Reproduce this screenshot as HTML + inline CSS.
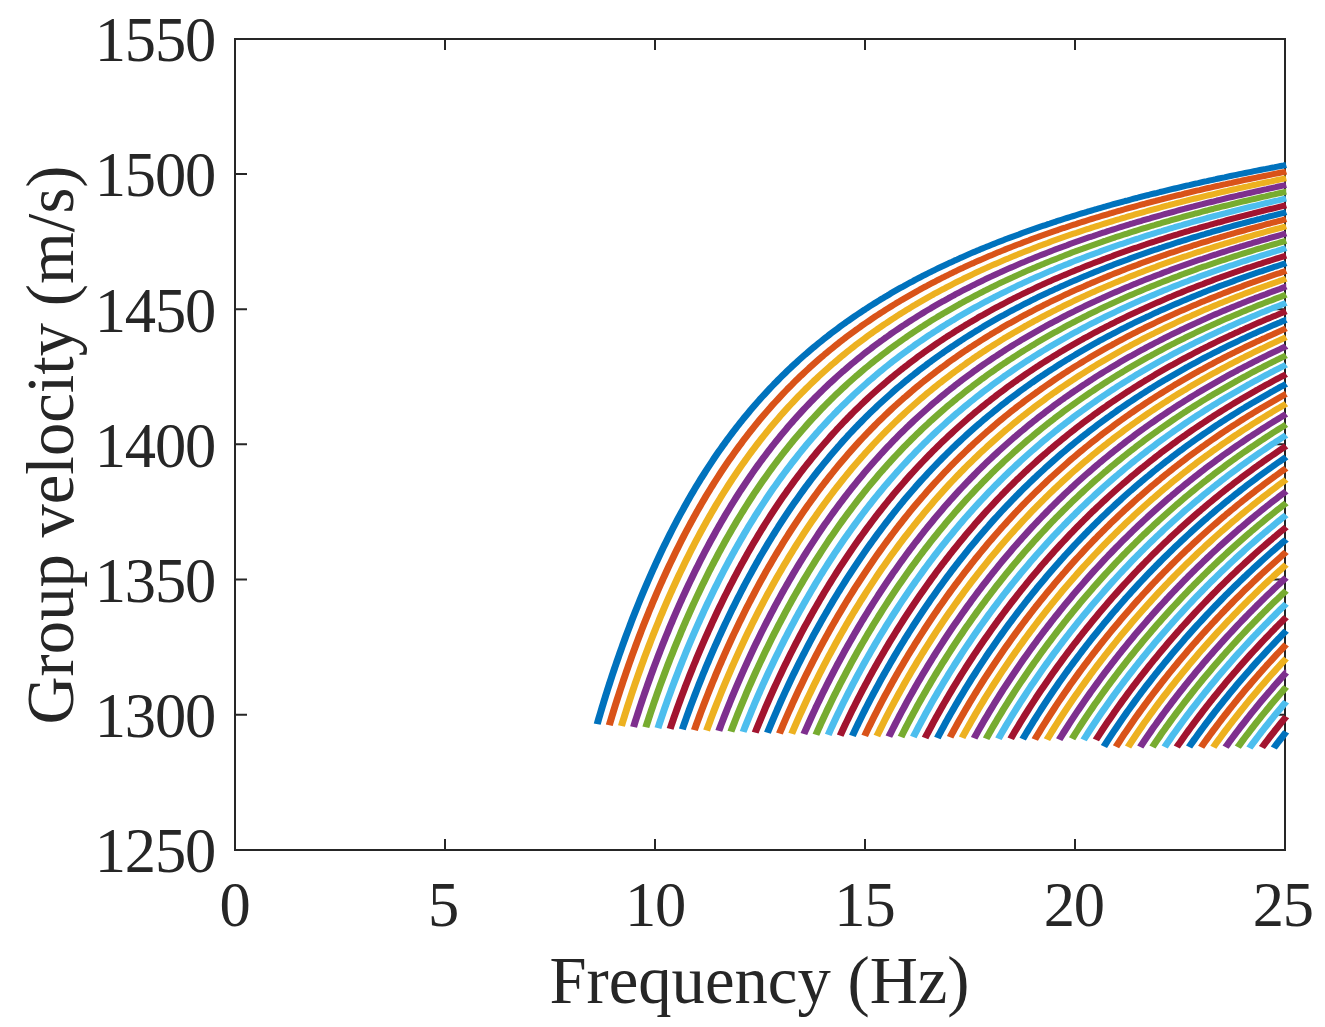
<!DOCTYPE html>
<html lang="en"><head><meta charset="utf-8"><title>Group velocity vs frequency</title>
<style>html,body{margin:0;padding:0;background:#fff}svg{display:block}text{font-family:"Liberation Serif",serif;fill:#262626}.t{font-size:62.5px;letter-spacing:-1.2px}.l{font-size:66.67px}.c{fill:none;stroke-width:6.0;stroke-linejoin:round;stroke-linecap:butt}</style></head><body>
<svg width="1325" height="1027" viewBox="0 0 1325 1027">
<rect width="1325" height="1027" fill="#fff"/>
<path d="M235 39H1285V850H235ZM445 850v-11M445 39v11M655 850v-11M655 39v11M865 850v-11M865 39v11M1075 850v-11M1075 39v11M235 173.97h12M1285 173.97h-12M235 309.13h12M1285 309.13h-12M235 444.30h12M1285 444.30h-12M235 579.47h12M1285 579.47h-12M235 714.63h12M1285 714.63h-12" fill="none" stroke="#262626" stroke-width="2" stroke-linejoin="miter"/>
<g class="c" transform="scale(1.18 1)">
<path stroke="#0072BD" d="M506.10,724.1 506.80,721.2 507.51,718.3 508.22,715.5 508.94,712.6 509.67,709.7 510.40,706.8 511.14,704.0 511.88,701.1 512.63,698.2 513.38,695.3 514.14,692.5 514.91,689.6 515.68,686.8 516.46,683.9 517.24,681.0 518.03,678.2 518.83,675.3 519.63,672.5 520.44,669.7 521.25,666.8 522.07,664.0 522.90,661.1 523.73,658.3 524.56,655.5 525.41,652.6 526.26,649.8 527.11,647.0 527.97,644.1 528.84,641.3 529.71,638.5 530.59,635.7 531.48,632.9 532.37,630.1 533.27,627.3 534.17,624.5 535.08,621.6 536.00,618.8 536.93,616.1 537.86,613.3 538.79,610.5 539.74,607.7 540.69,604.9 541.64,602.1 542.61,599.3 543.58,596.6 544.55,593.8 545.54,591.0 546.53,588.3 547.53,585.5 548.53,582.7 549.54,580.0 550.56,577.2 551.59,574.5 552.62,571.7 553.66,569.0 554.71,566.3 555.77,563.5 556.83,560.8 557.90,558.1 558.98,555.4 560.07,552.7 561.17,549.9 562.27,547.2 563.38,544.5 564.50,541.8 565.63,539.1 566.76,536.5 567.91,533.8 569.06,531.1 570.22,528.4 571.39,525.8 572.57,523.1 573.75,520.4 574.95,517.8 576.15,515.1 577.37,512.5 578.59,509.9 579.82,507.2 581.06,504.6 582.31,502.0 583.57,499.4 584.84,496.8 586.12,494.2 587.41,491.6 588.70,489.0 590.01,486.4 591.33,483.9 592.66,481.3 593.99,478.7 595.34,476.2 596.70,473.7 598.07,471.1 599.44,468.6 600.83,466.1 602.23,463.6 603.64,461.1 605.06,458.6 606.49,456.1 607.93,453.6 609.38,451.1 610.84,448.7 612.31,446.2 613.80,443.8 615.29,441.3 616.80,438.9 618.31,436.5 619.84,434.1 621.38,431.7 622.93,429.3 624.49,426.9 626.06,424.6 627.64,422.2 629.23,419.9 630.84,417.5 632.45,415.2 634.08,412.9 635.72,410.6 637.37,408.3 639.03,406.0 640.70,403.7 642.38,401.5 644.07,399.2 645.78,397.0 647.49,394.8 649.22,392.6 650.96,390.4 652.70,388.2 654.46,386.0 656.23,383.8 658.01,381.7 659.81,379.5 661.61,377.4 663.42,375.3 665.24,373.2 667.08,371.1 668.92,369.0 670.78,366.9 672.64,364.9 674.52,362.9 676.40,360.8 678.30,358.8 680.21,356.8 682.12,354.8 684.05,352.9 685.98,350.9 687.93,348.9 689.88,347.0 691.85,345.1 693.82,343.2 695.80,341.3 697.80,339.4 699.80,337.5 701.81,335.7 703.83,333.8 705.86,332.0 707.89,330.2 709.94,328.4 711.99,326.6 714.05,324.8 716.12,323.1 718.20,321.3 720.29,319.6 722.38,317.9 724.49,316.2 726.60,314.5 728.71,312.8 730.84,311.1 732.97,309.5 735.11,307.8 737.26,306.2 739.41,304.6 741.57,303.0 743.74,301.4 745.91,299.8 748.10,298.3 750.28,296.7 752.48,295.2 754.68,293.6 756.88,292.1 759.10,290.6 761.31,289.1 763.54,287.6 765.77,286.2 768.00,284.7 770.25,283.3 772.49,281.9 774.74,280.4 777.00,279.0 779.26,277.6 781.53,276.2 783.80,274.9 786.08,273.5 788.36,272.2 790.65,270.8 792.94,269.5 795.24,268.2 797.54,266.9 799.85,265.6 802.15,264.3 804.47,263.0 806.79,261.8 809.11,260.5 811.43,259.3 813.76,258.0 816.10,256.8 818.43,255.6 820.77,254.4 823.12,253.2 825.47,252.0 827.82,250.8 830.17,249.7 832.53,248.5 834.89,247.4 837.26,246.3 839.62,245.1 842.00,244.0 844.37,242.9 846.75,241.8 849.13,240.7 851.51,239.6 853.89,238.6 856.28,237.5 858.67,236.4 861.07,235.4 863.46,234.4 865.86,233.3 868.26,232.3 870.66,231.3 873.07,230.3 875.48,229.3 877.89,228.3 880.30,227.3 882.72,226.3 885.13,225.4 887.55,224.4 889.97,223.5 892.40,222.5 894.82,221.6 897.25,220.6 899.68,219.7 902.11,218.8 904.54,217.9 906.98,217.0 909.41,216.1 911.85,215.2 914.29,214.3 916.73,213.4 919.17,212.6 921.62,211.7 924.07,210.9 926.51,210.0 928.96,209.2 931.41,208.3 933.87,207.5 936.32,206.7 938.77,205.8 941.23,205.0 943.69,204.2 946.15,203.4 948.61,202.6 951.07,201.8 953.53,201.0 956.00,200.3 958.46,199.5 960.93,198.7 963.40,198.0 965.87,197.2 968.34,196.4 970.81,195.7 973.28,195.0 975.75,194.2 978.23,193.5 980.70,192.8 983.18,192.0 985.65,191.3 988.13,190.6 990.61,189.9 993.09,189.2 995.57,188.5 998.05,187.8 1000.54,187.1 1003.02,186.4 1005.51,185.7 1007.99,185.1 1010.48,184.4 1012.96,183.7 1015.45,183.1 1017.94,182.4 1020.43,181.7 1022.92,181.1 1025.41,180.4 1027.90,179.8 1030.39,179.2 1032.89,178.5 1035.38,177.9 1037.87,177.3 1040.37,176.6 1042.86,176.0 1045.36,175.4 1047.86,174.8 1050.35,174.2 1052.85,173.6 1055.35,173.0 1057.85,172.4 1060.35,171.8 1062.85,171.2 1065.35,170.6 1067.85,170.0 1070.35,169.4 1072.86,168.9 1075.36,168.3 1077.86,167.7 1080.37,167.2 1082.87,166.6 1085.38,166.0 1087.88,165.5 1090.00,165.0"/>
<path stroke="#D95319" d="M516.35,725.2 517.07,722.3 517.80,719.4 518.53,716.6 519.27,713.7 520.01,710.8 520.76,708.0 521.52,705.1 522.28,702.2 523.05,699.4 523.83,696.5 524.61,693.7 525.40,690.8 526.19,688.0 526.99,685.1 527.79,682.3 528.60,679.4 529.42,676.6 530.24,673.7 531.07,670.9 531.90,668.1 532.75,665.2 533.59,662.4 534.44,659.6 535.30,656.7 536.17,653.9 537.04,651.1 537.92,648.3 538.80,645.5 539.69,642.7 540.59,639.8 541.49,637.0 542.40,634.2 543.31,631.4 544.23,628.6 545.16,625.8 546.09,623.1 547.03,620.3 547.98,617.5 548.93,614.7 549.89,611.9 550.86,609.1 551.83,606.4 552.81,603.6 553.80,600.8 554.80,598.1 555.80,595.3 556.80,592.5 557.82,589.8 558.84,587.0 559.87,584.3 560.90,581.6 561.95,578.8 563.00,576.1 564.06,573.4 565.12,570.6 566.19,567.9 567.27,565.2 568.36,562.5 569.46,559.8 570.56,557.1 571.67,554.4 572.79,551.7 573.92,549.0 575.05,546.3 576.20,543.6 577.35,540.9 578.51,538.2 579.68,535.6 580.85,532.9 582.04,530.3 583.23,527.6 584.44,525.0 585.65,522.3 586.87,519.7 588.09,517.1 589.33,514.4 590.58,511.8 591.83,509.2 593.10,506.6 594.37,504.0 595.66,501.4 596.95,498.8 598.25,496.2 599.56,493.7 600.89,491.1 602.22,488.5 603.56,486.0 604.91,483.4 606.27,480.9 607.64,478.4 609.02,475.8 610.41,473.3 611.81,470.8 613.22,468.3 614.64,465.8 616.07,463.3 617.52,460.8 618.97,458.4 620.43,455.9 621.90,453.5 623.39,451.0 624.88,448.6 626.39,446.2 627.90,443.8 629.43,441.3 630.97,438.9 632.51,436.6 634.07,434.2 635.64,431.8 637.22,429.5 638.81,427.1 640.42,424.8 642.03,422.4 643.65,420.1 645.29,417.8 646.93,415.5 648.59,413.2 650.26,411.0 651.94,408.7 653.62,406.4 655.32,404.2 657.04,402.0 658.76,399.8 660.49,397.6 662.23,395.4 663.99,393.2 665.75,391.0 667.53,388.8 669.31,386.7 671.11,384.6 672.91,382.4 674.73,380.3 676.56,378.2 678.40,376.1 680.24,374.1 682.10,372.0 683.97,370.0 685.85,367.9 687.74,365.9 689.64,363.9 691.55,361.9 693.46,359.9 695.39,357.9 697.33,356.0 699.28,354.0 701.23,352.1 703.20,350.2 705.17,348.3 707.16,346.4 709.15,344.5 711.15,342.6 713.16,340.8 715.18,338.9 717.21,337.1 719.25,335.3 721.29,333.5 723.35,331.7 725.41,329.9 727.48,328.2 729.55,326.4 731.64,324.7 733.73,323.0 735.84,321.3 737.94,319.6 740.06,317.9 742.19,316.2 744.32,314.6 746.46,312.9 748.60,311.3 750.75,309.7 752.91,308.1 755.08,306.5 757.25,304.9 759.43,303.3 761.62,301.8 763.81,300.2 766.01,298.7 768.21,297.2 770.42,295.7 772.64,294.2 774.86,292.7 777.09,291.2 779.32,289.8 781.56,288.3 783.80,286.9 786.05,285.5 788.31,284.0 790.57,282.6 792.83,281.3 795.10,279.9 797.38,278.5 799.66,277.2 801.94,275.8 804.23,274.5 806.52,273.2 808.82,271.8 811.12,270.5 813.43,269.2 815.74,268.0 818.06,266.7 820.38,265.4 822.70,264.2 825.03,263.0 827.36,261.7 829.69,260.5 832.03,259.3 834.37,258.1 836.72,256.9 839.06,255.7 841.42,254.6 843.77,253.4 846.13,252.2 848.49,251.1 850.86,250.0 853.23,248.8 855.60,247.7 857.97,246.6 860.35,245.5 862.73,244.4 865.11,243.4 867.50,242.3 869.89,241.2 872.28,240.2 874.67,239.1 877.07,238.1 879.46,237.1 881.86,236.0 884.27,235.0 886.67,234.0 889.08,233.0 891.49,232.0 893.90,231.0 896.32,230.1 898.74,229.1 901.15,228.1 903.58,227.2 906.00,226.2 908.42,225.3 910.85,224.4 913.28,223.4 915.71,222.5 918.14,221.6 920.58,220.7 923.01,219.8 925.45,218.9 927.89,218.0 930.33,217.2 932.77,216.3 935.22,215.4 937.66,214.6 940.11,213.7 942.56,212.9 945.01,212.0 947.46,211.2 949.91,210.4 952.37,209.5 954.82,208.7 957.28,207.9 959.74,207.1 962.20,206.3 964.66,205.5 967.12,204.7 969.59,204.0 972.05,203.2 974.52,202.4 976.99,201.6 979.45,200.9 981.92,200.1 984.39,199.4 986.87,198.6 989.34,197.9 991.81,197.1 994.29,196.4 996.76,195.7 999.24,195.0 1001.72,194.3 1004.19,193.5 1006.67,192.8 1009.15,192.1 1011.64,191.4 1014.12,190.7 1016.60,190.1 1019.09,189.4 1021.57,188.7 1024.06,188.0 1026.54,187.4 1029.03,186.7 1031.52,186.0 1034.01,185.4 1036.50,184.7 1038.99,184.1 1041.48,183.4 1043.97,182.8 1046.46,182.1 1048.95,181.5 1051.45,180.9 1053.94,180.2 1056.44,179.6 1058.93,179.0 1061.43,178.4 1063.93,177.8 1066.42,177.2 1068.92,176.6 1071.42,176.0 1073.92,175.4 1076.42,174.8 1078.92,174.2 1081.42,173.6 1083.92,173.0 1086.42,172.4 1088.93,171.9 1090.00,171.6"/>
<path stroke="#EDB120" d="M526.66,726.0 527.40,723.1 528.14,720.3 528.90,717.4 529.65,714.5 530.42,711.7 531.19,708.8 531.97,705.9 532.75,703.1 533.54,700.2 534.34,697.4 535.14,694.5 535.95,691.7 536.76,688.9 537.58,686.0 538.40,683.2 539.24,680.3 540.07,677.5 540.92,674.7 541.77,671.8 542.63,669.0 543.49,666.2 544.36,663.4 545.23,660.6 546.11,657.7 547.00,654.9 547.89,652.1 548.79,649.3 549.70,646.5 550.61,643.7 551.53,640.9 552.45,638.1 553.38,635.3 554.32,632.5 555.27,629.7 556.22,626.9 557.17,624.2 558.14,621.4 559.11,618.6 560.08,615.8 561.07,613.1 562.06,610.3 563.06,607.5 564.06,604.8 565.07,602.0 566.09,599.3 567.11,596.5 568.14,593.8 569.18,591.1 570.23,588.3 571.28,585.6 572.34,582.9 573.41,580.1 574.48,577.4 575.56,574.7 576.65,572.0 577.75,569.3 578.86,566.6 579.97,563.9 581.09,561.2 582.22,558.5 583.35,555.8 584.50,553.1 585.65,550.4 586.81,547.8 587.97,545.1 589.15,542.4 590.33,539.8 591.53,537.1 592.73,534.5 593.94,531.8 595.16,529.2 596.38,526.6 597.62,523.9 598.86,521.3 600.12,518.7 601.38,516.1 602.65,513.5 603.93,510.9 605.22,508.3 606.52,505.7 607.82,503.1 609.14,500.6 610.47,498.0 611.80,495.4 613.15,492.9 614.50,490.4 615.87,487.8 617.24,485.3 618.62,482.8 620.02,480.3 621.42,477.7 622.84,475.2 624.26,472.8 625.69,470.3 627.14,467.8 628.59,465.3 630.06,462.9 631.53,460.4 633.02,458.0 634.51,455.5 636.02,453.1 637.53,450.7 639.06,448.3 640.60,445.9 642.15,443.5 643.70,441.1 645.27,438.8 646.85,436.4 648.44,434.1 650.04,431.7 651.65,429.4 653.28,427.1 654.91,424.8 656.55,422.5 658.21,420.2 659.87,417.9 661.55,415.6 663.23,413.4 664.93,411.1 666.64,408.9 668.35,406.7 670.08,404.5 671.82,402.3 673.57,400.1 675.33,397.9 677.10,395.7 678.88,393.6 680.67,391.5 682.48,389.3 684.29,387.2 686.11,385.1 687.94,383.0 689.78,380.9 691.64,378.9 693.50,376.8 695.37,374.8 697.25,372.7 699.15,370.7 701.05,368.7 702.96,366.7 704.88,364.7 706.81,362.8 708.75,360.8 710.70,358.9 712.66,356.9 714.63,355.0 716.60,353.1 718.59,351.2 720.58,349.4 722.59,347.5 724.60,345.6 726.62,343.8 728.65,342.0 730.69,340.2 732.73,338.4 734.79,336.6 736.85,334.8 738.92,333.1 741.00,331.3 743.08,329.6 745.18,327.8 747.28,326.1 749.39,324.4 751.50,322.8 753.63,321.1 755.76,319.4 757.89,317.8 760.04,316.2 762.19,314.5 764.35,312.9 766.51,311.3 768.68,309.7 770.86,308.2 773.05,306.6 775.24,305.1 777.43,303.5 779.64,302.0 781.84,300.5 784.06,299.0 786.28,297.5 788.51,296.0 790.74,294.6 792.97,293.1 795.22,291.7 797.46,290.3 799.72,288.9 801.98,287.4 804.24,286.1 806.51,284.7 808.78,283.3 811.06,281.9 813.34,280.6 815.63,279.3 817.92,277.9 820.21,276.6 822.51,275.3 824.82,274.0 827.13,272.7 829.44,271.4 831.76,270.2 834.08,268.9 836.40,267.7 838.73,266.4 841.06,265.2 843.40,264.0 845.74,262.8 848.08,261.6 850.43,260.4 852.78,259.2 855.13,258.1 857.48,256.9 859.84,255.8 862.21,254.6 864.57,253.5 866.94,252.4 869.31,251.3 871.69,250.2 874.07,249.1 876.45,248.0 878.83,246.9 881.22,245.8 883.60,244.8 886.00,243.7 888.39,242.7 890.79,241.6 893.18,240.6 895.59,239.6 897.99,238.6 900.39,237.6 902.80,236.6 905.21,235.6 907.63,234.6 910.04,233.6 912.46,232.7 914.88,231.7 917.30,230.7 919.72,229.8 922.14,228.9 924.57,227.9 927.00,227.0 929.43,226.1 931.86,225.2 934.30,224.3 936.73,223.4 939.17,222.5 941.61,221.6 944.05,220.7 946.49,219.8 948.93,219.0 951.38,218.1 953.83,217.3 956.28,216.4 958.73,215.6 961.18,214.7 963.63,213.9 966.08,213.1 968.54,212.3 971.00,211.5 973.45,210.7 975.91,209.9 978.38,209.1 980.84,208.3 983.30,207.5 985.76,206.7 988.23,205.9 990.70,205.2 993.17,204.4 995.63,203.7 998.10,202.9 1000.58,202.2 1003.05,201.4 1005.52,200.7 1008.00,199.9 1010.47,199.2 1012.95,198.5 1015.42,197.8 1017.90,197.1 1020.38,196.4 1022.86,195.7 1025.34,195.0 1027.82,194.3 1030.31,193.6 1032.79,192.9 1035.27,192.2 1037.76,191.5 1040.25,190.9 1042.73,190.2 1045.22,189.5 1047.71,188.9 1050.20,188.2 1052.69,187.6 1055.18,186.9 1057.67,186.3 1060.16,185.6 1062.65,185.0 1065.15,184.4 1067.64,183.7 1070.13,183.1 1072.63,182.5 1075.13,181.9 1077.62,181.3 1080.12,180.6 1082.62,180.0 1085.12,179.4 1087.61,178.8 1090.00,178.3"/>
<path stroke="#7E2F8E" d="M536.94,726.9 537.70,724.0 538.46,721.1 539.24,718.3 540.01,715.4 540.80,712.6 541.59,709.7 542.39,706.8 543.19,704.0 544.00,701.2 544.82,698.3 545.64,695.5 546.46,692.6 547.30,689.8 548.14,687.0 548.99,684.1 549.84,681.3 550.70,678.5 551.56,675.7 552.43,672.8 553.31,670.0 554.20,667.2 555.09,664.4 555.98,661.6 556.88,658.8 557.79,656.0 558.71,653.2 559.63,650.4 560.56,647.6 561.49,644.8 562.43,642.0 563.38,639.2 564.33,636.4 565.29,633.7 566.26,630.9 567.23,628.1 568.21,625.3 569.20,622.6 570.19,619.8 571.19,617.0 572.20,614.3 573.21,611.5 574.23,608.8 575.26,606.0 576.29,603.3 577.33,600.6 578.38,597.8 579.43,595.1 580.50,592.4 581.57,589.6 582.64,586.9 583.73,584.2 584.82,581.5 585.91,578.8 587.02,576.1 588.13,573.4 589.25,570.7 590.38,568.0 591.52,565.3 592.66,562.6 593.81,559.9 594.97,557.3 596.14,554.6 597.31,551.9 598.50,549.3 599.69,546.6 600.89,544.0 602.10,541.3 603.31,538.7 604.54,536.1 605.77,533.4 607.01,530.8 608.26,528.2 609.52,525.6 610.79,523.0 612.07,520.4 613.35,517.8 614.65,515.2 615.95,512.6 617.26,510.1 618.58,507.5 619.91,504.9 621.25,502.4 622.60,499.8 623.96,497.3 625.33,494.8 626.71,492.2 628.09,489.7 629.49,487.2 630.90,484.7 632.31,482.2 633.74,479.7 635.18,477.2 636.62,474.7 638.08,472.3 639.54,469.8 641.02,467.4 642.51,464.9 644.00,462.5 645.51,460.1 647.02,457.7 648.55,455.3 650.09,452.9 651.64,450.5 653.19,448.1 654.76,445.7 656.34,443.4 657.93,441.0 659.53,438.7 661.14,436.3 662.76,434.0 664.39,431.7 666.03,429.4 667.68,427.1 669.34,424.8 671.01,422.6 672.70,420.3 674.39,418.1 676.09,415.8 677.81,413.6 679.53,411.4 681.27,409.2 683.01,407.0 684.77,404.8 686.53,402.6 688.31,400.5 690.10,398.3 691.89,396.2 693.70,394.1 695.51,392.0 697.34,389.9 699.18,387.8 701.02,385.7 702.88,383.6 704.75,381.6 706.62,379.6 708.51,377.5 710.40,375.5 712.31,373.5 714.22,371.5 716.15,369.6 718.08,367.6 720.02,365.6 721.97,363.7 723.93,361.8 725.90,359.9 727.88,358.0 729.87,356.1 731.86,354.2 733.87,352.3 735.88,350.5 737.90,348.7 739.93,346.8 741.97,345.0 744.01,343.2 746.07,341.4 748.13,339.7 750.20,337.9 752.28,336.2 754.37,334.4 756.46,332.7 758.56,331.0 760.67,329.3 762.78,327.6 764.91,325.9 767.04,324.3 769.17,322.6 771.32,321.0 773.47,319.4 775.62,317.8 777.79,316.2 779.96,314.6 782.13,313.0 784.32,311.4 786.50,309.9 788.70,308.4 790.90,306.8 793.11,305.3 795.32,303.8 797.54,302.3 799.76,300.9 801.99,299.4 804.23,297.9 806.47,296.5 808.71,295.1 810.96,293.6 813.22,292.2 815.48,290.8 817.75,289.4 820.02,288.1 822.29,286.7 824.57,285.3 826.86,284.0 829.15,282.7 831.44,281.4 833.74,280.0 836.04,278.7 838.35,277.4 840.66,276.2 842.97,274.9 845.29,273.6 847.61,272.4 849.94,271.1 852.27,269.9 854.60,268.7 856.94,267.5 859.28,266.3 861.62,265.1 863.97,263.9 866.32,262.7 868.67,261.6 871.03,260.4 873.39,259.3 875.75,258.1 878.12,257.0 880.49,255.9 882.86,254.8 885.24,253.7 887.62,252.6 890.00,251.5 892.38,250.4 894.77,249.3 897.16,248.3 899.55,247.2 901.94,246.2 904.34,245.2 906.74,244.1 909.14,243.1 911.54,242.1 913.95,241.1 916.36,240.1 918.77,239.1 921.18,238.1 923.59,237.1 926.01,236.2 928.43,235.2 930.85,234.3 933.27,233.3 935.70,232.4 938.12,231.4 940.55,230.5 942.98,229.6 945.41,228.7 947.85,227.8 950.28,226.9 952.72,226.0 955.16,225.1 957.60,224.2 960.04,223.4 962.48,222.5 964.93,221.6 967.38,220.8 969.82,219.9 972.27,219.1 974.72,218.3 977.18,217.4 979.63,216.6 982.09,215.8 984.54,215.0 987.00,214.2 989.46,213.4 991.92,212.6 994.38,211.8 996.84,211.0 999.31,210.2 1001.77,209.4 1004.24,208.7 1006.71,207.9 1009.18,207.1 1011.65,206.4 1014.12,205.6 1016.59,204.9 1019.06,204.2 1021.53,203.4 1024.01,202.7 1026.48,202.0 1028.96,201.3 1031.44,200.5 1033.92,199.8 1036.40,199.1 1038.88,198.4 1041.36,197.7 1043.84,197.0 1046.32,196.3 1048.81,195.7 1051.29,195.0 1053.78,194.3 1056.26,193.6 1058.75,193.0 1061.24,192.3 1063.73,191.6 1066.22,191.0 1068.71,190.3 1071.20,189.7 1073.69,189.1 1076.18,188.4 1078.67,187.8 1081.17,187.2 1083.66,186.5 1086.16,185.9 1088.65,185.3 1090.00,185.0"/>
<path stroke="#77AC30" d="M547.32,727.3 548.10,724.4 548.88,721.6 549.67,718.7 550.47,715.9 551.28,713.0 552.09,710.2 552.91,707.4 553.73,704.5 554.56,701.7 555.40,698.8 556.24,696.0 557.09,693.2 557.94,690.4 558.80,687.5 559.67,684.7 560.55,681.9 561.43,679.1 562.31,676.3 563.21,673.5 564.11,670.6 565.01,667.8 565.92,665.0 566.84,662.2 567.77,659.4 568.70,656.6 569.64,653.9 570.58,651.1 571.53,648.3 572.49,645.5 573.45,642.7 574.42,640.0 575.40,637.2 576.38,634.4 577.37,631.6 578.37,628.9 579.37,626.1 580.38,623.4 581.39,620.6 582.42,617.9 583.45,615.1 584.48,612.4 585.53,609.6 586.58,606.9 587.63,604.2 588.70,601.5 589.77,598.7 590.85,596.0 591.93,593.3 593.03,590.6 594.13,587.9 595.23,585.2 596.35,582.5 597.47,579.8 598.60,577.1 599.74,574.4 600.88,571.7 602.03,569.0 603.19,566.4 604.36,563.7 605.54,561.0 606.72,558.4 607.91,555.7 609.11,553.1 610.32,550.4 611.54,547.8 612.76,545.2 613.99,542.5 615.23,539.9 616.48,537.3 617.74,534.7 619.00,532.1 620.28,529.5 621.56,526.9 622.85,524.3 624.15,521.7 625.46,519.1 626.78,516.6 628.11,514.0 629.44,511.5 630.79,508.9 632.14,506.4 633.51,503.8 634.88,501.3 636.26,498.8 637.65,496.3 639.05,493.7 640.46,491.2 641.88,488.8 643.31,486.3 644.75,483.8 646.20,481.3 647.66,478.9 649.13,476.4 650.61,474.0 652.10,471.5 653.59,469.1 655.10,466.7 656.62,464.2 658.15,461.8 659.69,459.4 661.23,457.1 662.79,454.7 664.36,452.3 665.94,450.0 667.53,447.6 669.13,445.3 670.74,442.9 672.36,440.6 673.99,438.3 675.63,436.0 677.28,433.7 678.94,431.4 680.61,429.2 682.29,426.9 683.98,424.6 685.68,422.4 687.39,420.2 689.11,418.0 690.85,415.8 692.59,413.6 694.34,411.4 696.10,409.2 697.88,407.0 699.66,404.9 701.45,402.8 703.25,400.6 705.06,398.5 706.89,396.4 708.72,394.3 710.56,392.2 712.41,390.2 714.27,388.1 716.14,386.1 718.02,384.0 719.91,382.0 721.81,380.0 723.72,378.0 725.64,376.0 727.57,374.1 729.50,372.1 731.45,370.1 733.40,368.2 735.37,366.3 737.34,364.4 739.32,362.5 741.31,360.6 743.31,358.7 745.31,356.9 747.33,355.0 749.35,353.2 751.38,351.4 753.42,349.6 755.47,347.8 757.53,346.0 759.59,344.2 761.66,342.5 763.74,340.7 765.82,339.0 767.92,337.3 770.02,335.5 772.13,333.8 774.24,332.2 776.37,330.5 778.50,328.8 780.63,327.2 782.78,325.6 784.93,323.9 787.08,322.3 789.25,320.7 791.42,319.1 793.59,317.6 795.77,316.0 797.96,314.5 800.16,312.9 802.36,311.4 804.56,309.9 806.77,308.4 808.99,306.9 811.21,305.4 813.44,303.9 815.68,302.5 817.91,301.0 820.16,299.6 822.41,298.2 824.66,296.8 826.92,295.4 829.19,294.0 831.46,292.6 833.73,291.2 836.01,289.9 838.29,288.5 840.58,287.2 842.87,285.9 845.17,284.5 847.47,283.2 849.77,281.9 852.08,280.7 854.39,279.4 856.71,278.1 859.03,276.9 861.35,275.6 863.68,274.4 866.01,273.2 868.35,271.9 870.68,270.7 873.03,269.5 875.37,268.3 877.72,267.2 880.07,266.0 882.43,264.8 884.79,263.7 887.15,262.5 889.51,261.4 891.88,260.3 894.25,259.2 896.62,258.1 899.00,257.0 901.38,255.9 903.76,254.8 906.14,253.7 908.53,252.6 910.92,251.6 913.31,250.5 915.71,249.5 918.10,248.5 920.50,247.4 922.91,246.4 925.31,245.4 927.72,244.4 930.12,243.4 932.53,242.4 934.95,241.4 937.36,240.5 939.78,239.5 942.20,238.5 944.62,237.6 947.04,236.6 949.47,235.7 951.89,234.8 954.32,233.9 956.75,232.9 959.18,232.0 961.62,231.1 964.05,230.2 966.49,229.3 968.93,228.4 971.37,227.6 973.81,226.7 976.25,225.8 978.70,225.0 981.15,224.1 983.59,223.3 986.04,222.4 988.49,221.6 990.95,220.8 993.40,219.9 995.85,219.1 998.31,218.3 1000.77,217.5 1003.23,216.7 1005.69,215.9 1008.15,215.1 1010.61,214.3 1013.08,213.5 1015.54,212.8 1018.01,212.0 1020.47,211.2 1022.94,210.5 1025.41,209.7 1027.88,209.0 1030.35,208.2 1032.82,207.5 1035.30,206.7 1037.77,206.0 1040.25,205.3 1042.72,204.6 1045.20,203.8 1047.68,203.1 1050.16,202.4 1052.64,201.7 1055.12,201.0 1057.60,200.3 1060.08,199.6 1062.57,199.0 1065.05,198.3 1067.54,197.6 1070.02,196.9 1072.51,196.3 1075.00,195.6 1077.49,194.9 1079.97,194.3 1082.46,193.6 1084.95,193.0 1087.45,192.3 1089.94,191.7 1090.00,191.7"/>
<path stroke="#4DBEEE" d="M557.59,728.1 558.39,725.3 559.19,722.4 560.00,719.6 560.82,716.7 561.65,713.9 562.48,711.0 563.31,708.2 564.16,705.4 565.01,702.5 565.86,699.7 566.72,696.9 567.59,694.1 568.47,691.3 569.35,688.4 570.24,685.6 571.13,682.8 572.03,680.0 572.94,677.2 573.86,674.4 574.78,671.6 575.70,668.8 576.63,666.0 577.57,663.2 578.52,660.4 579.47,657.7 580.43,654.9 581.40,652.1 582.37,649.3 583.35,646.6 584.33,643.8 585.32,641.0 586.32,638.3 587.32,635.5 588.34,632.8 589.35,630.0 590.38,627.3 591.41,624.5 592.45,621.8 593.49,619.0 594.54,616.3 595.60,613.6 596.67,610.8 597.74,608.1 598.82,605.4 599.91,602.7 601.00,600.0 602.10,597.3 603.21,594.6 604.33,591.9 605.45,589.2 606.58,586.5 607.72,583.8 608.86,581.1 610.01,578.4 611.17,575.8 612.34,573.1 613.51,570.4 614.70,567.8 615.89,565.1 617.09,562.5 618.29,559.8 619.51,557.2 620.73,554.6 621.96,551.9 623.20,549.3 624.44,546.7 625.70,544.1 626.96,541.5 628.23,538.9 629.51,536.3 630.80,533.7 632.10,531.1 633.40,528.5 634.71,525.9 636.04,523.4 637.37,520.8 638.71,518.3 640.06,515.7 641.42,513.2 642.78,510.6 644.16,508.1 645.54,505.6 646.94,503.1 648.34,500.6 649.76,498.1 651.18,495.6 652.61,493.1 654.05,490.6 655.50,488.1 656.96,485.7 658.43,483.2 659.91,480.8 661.40,478.4 662.90,475.9 664.41,473.5 665.93,471.1 667.45,468.7 668.99,466.3 670.54,463.9 672.10,461.5 673.66,459.2 675.24,456.8 676.83,454.4 678.43,452.1 680.03,449.8 681.65,447.4 683.28,445.1 684.92,442.8 686.57,440.5 688.22,438.3 689.89,436.0 691.57,433.7 693.26,431.5 694.95,429.2 696.66,427.0 698.38,424.8 700.11,422.6 701.85,420.4 703.59,418.2 705.35,416.0 707.12,413.8 708.90,411.7 710.68,409.5 712.48,407.4 714.29,405.3 716.11,403.2 717.93,401.1 719.77,399.0 721.61,396.9 723.47,394.8 725.33,392.8 727.21,390.7 729.09,388.7 730.98,386.7 732.89,384.7 734.80,382.7 736.72,380.7 738.65,378.8 740.58,376.8 742.53,374.9 744.49,372.9 746.45,371.0 748.43,369.1 750.41,367.2 752.40,365.3 754.40,363.4 756.40,361.6 758.42,359.7 760.44,357.9 762.48,356.1 764.52,354.3 766.56,352.5 768.62,350.7 770.68,348.9 772.75,347.2 774.83,345.4 776.92,343.7 779.01,342.0 781.11,340.3 783.22,338.6 785.33,336.9 787.46,335.2 789.59,333.6 791.72,331.9 793.86,330.3 796.01,328.6 798.17,327.0 800.33,325.4 802.50,323.8 804.67,322.3 806.85,320.7 809.04,319.2 811.23,317.6 813.43,316.1 815.63,314.6 817.84,313.1 820.06,311.6 822.28,310.1 824.51,308.6 826.74,307.1 828.98,305.7 831.22,304.3 833.47,302.8 835.72,301.4 837.98,300.0 840.24,298.6 842.50,297.2 844.78,295.9 847.05,294.5 849.33,293.1 851.62,291.8 853.91,290.5 856.20,289.2 858.50,287.8 860.80,286.5 863.11,285.2 865.42,284.0 867.73,282.7 870.05,281.4 872.37,280.2 874.70,278.9 877.03,277.7 879.36,276.5 881.69,275.3 884.03,274.1 886.38,272.9 888.72,271.7 891.07,270.5 893.43,269.4 895.78,268.2 898.14,267.0 900.50,265.9 902.87,264.8 905.24,263.7 907.61,262.5 909.98,261.4 912.36,260.3 914.74,259.2 917.12,258.2 919.50,257.1 921.89,256.0 924.28,255.0 926.67,253.9 929.07,252.9 931.46,251.9 933.86,250.8 936.27,249.8 938.67,248.8 941.08,247.8 943.48,246.8 945.90,245.8 948.31,244.8 950.72,243.9 953.14,242.9 955.56,241.9 957.98,241.0 960.40,240.0 962.83,239.1 965.25,238.2 967.68,237.2 970.11,236.3 972.54,235.4 974.98,234.5 977.41,233.6 979.85,232.7 982.29,231.8 984.73,231.0 987.17,230.1 989.61,229.2 992.06,228.3 994.50,227.5 996.95,226.6 999.40,225.8 1001.85,225.0 1004.30,224.1 1006.75,223.3 1009.21,222.5 1011.66,221.7 1014.12,220.9 1016.58,220.1 1019.04,219.3 1021.50,218.5 1023.96,217.7 1026.43,216.9 1028.89,216.1 1031.36,215.3 1033.82,214.6 1036.29,213.8 1038.76,213.1 1041.23,212.3 1043.70,211.6 1046.17,210.8 1048.65,210.1 1051.12,209.4 1053.59,208.6 1056.07,207.9 1058.55,207.2 1061.03,206.5 1063.50,205.8 1065.98,205.1 1068.46,204.4 1070.95,203.7 1073.43,203.0 1075.91,202.3 1078.39,201.6 1080.88,200.9 1083.36,200.3 1085.85,199.6 1088.34,198.9 1090.00,198.5"/>
<path stroke="#A2142F" d="M567.88,728.8 568.70,726.0 569.52,723.1 570.35,720.3 571.19,717.4 572.03,714.6 572.88,711.8 573.74,709.0 574.60,706.1 575.47,703.3 576.34,700.5 577.23,697.7 578.12,694.9 579.01,692.1 579.91,689.3 580.82,686.4 581.74,683.6 582.66,680.9 583.58,678.1 584.52,675.3 585.46,672.5 586.41,669.7 587.36,666.9 588.32,664.1 589.29,661.4 590.26,658.6 591.24,655.8 592.23,653.0 593.22,650.3 594.22,647.5 595.23,644.8 596.24,642.0 597.26,639.3 598.28,636.5 599.32,633.8 600.36,631.0 601.40,628.3 602.46,625.6 603.52,622.8 604.58,620.1 605.66,617.4 606.74,614.7 607.82,611.9 608.92,609.2 610.02,606.5 611.13,603.8 612.24,601.1 613.37,598.4 614.50,595.7 615.64,593.1 616.78,590.4 617.93,587.7 619.09,585.0 620.26,582.4 621.43,579.7 622.61,577.0 623.80,574.4 625.00,571.7 626.21,569.1 627.42,566.5 628.64,563.8 629.87,561.2 631.10,558.6 632.35,555.9 633.60,553.3 634.86,550.7 636.13,548.1 637.41,545.5 638.69,542.9 639.99,540.3 641.29,537.8 642.60,535.2 643.92,532.6 645.24,530.0 646.58,527.5 647.92,524.9 649.28,522.4 650.64,519.9 652.01,517.3 653.39,514.8 654.78,512.3 656.18,509.8 657.58,507.3 659.00,504.8 660.42,502.3 661.86,499.8 663.30,497.3 664.75,494.9 666.21,492.4 667.69,489.9 669.17,487.5 670.66,485.1 672.16,482.6 673.67,480.2 675.18,477.8 676.71,475.4 678.25,473.0 679.80,470.6 681.36,468.2 682.92,465.9 684.50,463.5 686.09,461.2 687.68,458.8 689.29,456.5 690.91,454.2 692.53,451.8 694.17,449.5 695.81,447.2 697.47,445.0 699.13,442.7 700.81,440.4 702.49,438.2 704.19,435.9 705.89,433.7 707.61,431.5 709.33,429.2 711.07,427.0 712.81,424.8 714.56,422.7 716.33,420.5 718.10,418.3 719.88,416.2 721.67,414.0 723.48,411.9 725.29,409.8 727.11,407.7 728.94,405.6 730.78,403.5 732.63,401.4 734.49,399.4 736.36,397.3 738.23,395.3 740.12,393.3 742.02,391.3 743.92,389.3 745.83,387.3 747.76,385.3 749.69,383.3 751.63,381.4 753.58,379.4 755.54,377.5 757.50,375.6 759.48,373.7 761.46,371.8 763.45,369.9 765.45,368.1 767.46,366.2 769.48,364.4 771.50,362.5 773.54,360.7 775.58,358.9 777.62,357.1 779.68,355.3 781.74,353.6 783.81,351.8 785.89,350.0 787.98,348.3 790.07,346.6 792.17,344.9 794.28,343.2 796.39,341.5 798.51,339.8 800.64,338.2 802.78,336.5 804.92,334.9 807.07,333.3 809.22,331.6 811.38,330.0 813.55,328.5 815.72,326.9 817.90,325.3 820.09,323.8 822.28,322.2 824.47,320.7 826.68,319.2 828.89,317.6 831.10,316.1 833.32,314.7 835.54,313.2 837.77,311.7 840.01,310.3 842.25,308.8 844.49,307.4 846.75,306.0 849.00,304.6 851.26,303.2 853.53,301.8 855.79,300.4 858.07,299.0 860.35,297.7 862.63,296.3 864.92,295.0 867.21,293.7 869.50,292.4 871.80,291.0 874.11,289.8 876.42,288.5 878.73,287.2 881.04,285.9 883.36,284.7 885.69,283.4 888.01,282.2 890.34,281.0 892.68,279.7 895.02,278.5 897.36,277.3 899.70,276.1 902.05,275.0 904.40,273.8 906.75,272.6 909.11,271.5 911.47,270.3 913.83,269.2 916.20,268.1 918.57,266.9 920.94,265.8 923.31,264.7 925.69,263.6 928.07,262.5 930.45,261.5 932.84,260.4 935.22,259.3 937.61,258.3 940.01,257.2 942.40,256.2 944.80,255.1 947.20,254.1 949.60,253.1 952.01,252.1 954.41,251.1 956.82,250.1 959.23,249.1 961.64,248.1 964.06,247.2 966.48,246.2 968.89,245.2 971.31,244.3 973.74,243.3 976.16,242.4 978.59,241.5 981.02,240.5 983.45,239.6 985.88,238.7 988.31,237.8 990.75,236.9 993.18,236.0 995.62,235.1 998.06,234.3 1000.50,233.4 1002.94,232.5 1005.39,231.6 1007.83,230.8 1010.28,229.9 1012.73,229.1 1015.18,228.3 1017.63,227.4 1020.09,226.6 1022.54,225.8 1025.00,225.0 1027.45,224.2 1029.91,223.3 1032.37,222.5 1034.83,221.8 1037.29,221.0 1039.75,220.2 1042.22,219.4 1044.68,218.6 1047.15,217.9 1049.62,217.1 1052.09,216.3 1054.56,215.6 1057.03,214.8 1059.50,214.1 1061.97,213.4 1064.44,212.6 1066.92,211.9 1069.39,211.2 1071.87,210.4 1074.35,209.7 1076.83,209.0 1079.30,208.3 1081.78,207.6 1084.27,206.9 1086.75,206.2 1089.23,205.5 1090.00,205.3"/>
<path stroke="#0072BD" d="M578.22,729.3 579.05,726.5 579.90,723.6 580.75,720.8 581.60,718.0 582.46,715.2 583.33,712.3 584.21,709.5 585.09,706.7 585.98,703.9 586.88,701.1 587.78,698.3 588.69,695.5 589.60,692.7 590.53,689.9 591.45,687.1 592.39,684.3 593.33,681.5 594.28,678.7 595.23,675.9 596.20,673.1 597.16,670.4 598.14,667.6 599.12,664.8 600.11,662.1 601.10,659.3 602.10,656.5 603.11,653.8 604.12,651.0 605.15,648.3 606.17,645.5 607.21,642.8 608.25,640.1 609.30,637.3 610.35,634.6 611.41,631.9 612.48,629.1 613.55,626.4 614.64,623.7 615.73,621.0 616.82,618.3 617.92,615.6 619.03,612.9 620.15,610.2 621.27,607.5 622.40,604.8 623.54,602.1 624.69,599.4 625.84,596.7 627.00,594.1 628.17,591.4 629.34,588.7 630.52,586.1 631.71,583.4 632.91,580.8 634.11,578.1 635.32,575.5 636.54,572.9 637.77,570.2 639.01,567.6 640.25,565.0 641.50,562.4 642.76,559.8 644.02,557.1 645.30,554.5 646.58,552.0 647.87,549.4 649.17,546.8 650.48,544.2 651.79,541.6 653.12,539.1 654.45,536.5 655.79,534.0 657.14,531.4 658.50,528.9 659.86,526.3 661.24,523.8 662.62,521.3 664.02,518.8 665.42,516.3 666.83,513.8 668.25,511.3 669.67,508.8 671.11,506.3 672.56,503.8 674.01,501.4 675.48,498.9 676.95,496.5 678.43,494.0 679.92,491.6 681.42,489.1 682.94,486.7 684.46,484.3 685.98,481.9 687.52,479.5 689.07,477.1 690.63,474.8 692.20,472.4 693.77,470.0 695.36,467.7 696.96,465.3 698.56,463.0 700.18,460.7 701.80,458.4 703.44,456.1 705.08,453.8 706.73,451.5 708.40,449.2 710.07,446.9 711.75,444.7 713.45,442.4 715.15,440.2 716.86,438.0 718.58,435.7 720.31,433.5 722.05,431.3 723.80,429.1 725.56,427.0 727.33,424.8 729.11,422.7 730.90,420.5 732.70,418.4 734.50,416.3 736.32,414.1 738.15,412.0 739.98,410.0 741.83,407.9 743.68,405.8 745.54,403.8 747.41,401.7 749.30,399.7 751.19,397.7 753.09,395.7 754.99,393.7 756.91,391.7 758.84,389.7 760.77,387.7 762.71,385.8 764.67,383.9 766.63,381.9 768.59,380.0 770.57,378.1 772.56,376.2 774.55,374.4 776.55,372.5 778.56,370.6 780.58,368.8 782.61,367.0 784.64,365.2 786.68,363.3 788.73,361.6 790.79,359.8 792.85,358.0 794.92,356.2 797.00,354.5 799.09,352.8 801.18,351.0 803.28,349.3 805.39,347.6 807.50,346.0 809.62,344.3 811.75,342.6 813.88,341.0 816.02,339.3 818.17,337.7 820.33,336.1 822.49,334.5 824.65,332.9 826.82,331.3 829.00,329.8 831.19,328.2 833.38,326.6 835.57,325.1 837.77,323.6 839.98,322.1 842.19,320.6 844.41,319.1 846.64,317.6 848.86,316.1 851.10,314.7 853.34,313.2 855.58,311.8 857.83,310.4 860.08,309.0 862.34,307.6 864.60,306.2 866.87,304.8 869.14,303.4 871.42,302.1 873.70,300.7 875.99,299.4 878.28,298.0 880.57,296.7 882.87,295.4 885.17,294.1 887.48,292.8 889.79,291.5 892.10,290.3 894.42,289.0 896.74,287.8 899.06,286.5 901.39,285.3 903.72,284.1 906.06,282.9 908.40,281.6 910.74,280.5 913.09,279.3 915.43,278.1 917.79,276.9 920.14,275.8 922.50,274.6 924.86,273.5 927.22,272.3 929.59,271.2 931.96,270.1 934.33,269.0 936.71,267.9 939.09,266.8 941.47,265.7 943.85,264.6 946.23,263.6 948.62,262.5 951.01,261.4 953.41,260.4 955.80,259.4 958.20,258.3 960.60,257.3 963.00,256.3 965.41,255.3 967.81,254.3 970.22,253.3 972.63,252.3 975.05,251.3 977.46,250.3 979.88,249.4 982.30,248.4 984.72,247.5 987.14,246.5 989.56,245.6 991.99,244.7 994.42,243.7 996.85,242.8 999.28,241.9 1001.71,241.0 1004.15,240.1 1006.58,239.2 1009.02,238.3 1011.46,237.4 1013.90,236.6 1016.35,235.7 1018.79,234.8 1021.24,234.0 1023.68,233.1 1026.13,232.3 1028.58,231.4 1031.03,230.6 1033.49,229.8 1035.94,229.0 1038.39,228.1 1040.85,227.3 1043.31,226.5 1045.77,225.7 1048.23,224.9 1050.69,224.1 1053.15,223.4 1055.62,222.6 1058.08,221.8 1060.55,221.0 1063.01,220.3 1065.48,219.5 1067.95,218.8 1070.42,218.0 1072.89,217.3 1075.36,216.5 1077.84,215.8 1080.31,215.1 1082.79,214.3 1085.26,213.6 1087.74,212.9 1090.00,212.2"/>
<path stroke="#D95319" d="M588.46,730.1 589.31,727.3 590.17,724.4 591.04,721.6 591.91,718.8 592.80,716.0 593.68,713.2 594.58,710.4 595.48,707.6 596.39,704.8 597.30,702.0 598.22,699.2 599.15,696.4 600.09,693.6 601.03,690.8 601.97,688.0 602.93,685.2 603.89,682.4 604.86,679.7 605.83,676.9 606.81,674.1 607.80,671.4 608.80,668.6 609.80,665.8 610.81,663.1 611.82,660.3 612.84,657.6 613.87,654.8 614.90,652.1 615.95,649.3 616.99,646.6 618.05,643.9 619.11,641.1 620.18,638.4 621.25,635.7 622.33,633.0 623.42,630.3 624.52,627.6 625.62,624.9 626.73,622.2 627.85,619.5 628.97,616.8 630.10,614.1 631.24,611.4 632.38,608.7 633.53,606.0 634.69,603.4 635.86,600.7 637.03,598.0 638.21,595.4 639.40,592.7 640.60,590.1 641.80,587.4 643.01,584.8 644.23,582.1 645.45,579.5 646.69,576.9 647.93,574.3 649.17,571.6 650.43,569.0 651.69,566.4 652.97,563.8 654.24,561.2 655.53,558.6 656.83,556.0 658.13,553.5 659.44,550.9 660.76,548.3 662.09,545.8 663.43,543.2 664.77,540.7 666.12,538.1 667.48,535.6 668.85,533.0 670.23,530.5 671.62,528.0 673.01,525.5 674.42,523.0 675.83,520.5 677.25,518.0 678.68,515.5 680.12,513.0 681.57,510.5 683.02,508.1 684.49,505.6 685.96,503.2 687.45,500.7 688.94,498.3 690.44,495.9 691.95,493.5 693.47,491.0 695.00,488.6 696.54,486.2 698.09,483.9 699.64,481.5 701.21,479.1 702.79,476.8 704.37,474.4 705.97,472.1 707.57,469.7 709.18,467.4 710.81,465.1 712.44,462.8 714.08,460.5 715.73,458.2 717.39,455.9 719.06,453.6 720.74,451.4 722.43,449.1 724.13,446.9 725.84,444.6 727.55,442.4 729.28,440.2 731.02,438.0 732.76,435.8 734.52,433.6 736.28,431.5 738.06,429.3 739.84,427.2 741.63,425.0 743.44,422.9 745.25,420.8 747.07,418.7 748.90,416.6 750.74,414.5 752.58,412.4 754.44,410.4 756.31,408.3 758.18,406.3 760.07,404.3 761.96,402.2 763.86,400.2 765.77,398.2 767.69,396.3 769.62,394.3 771.55,392.3 773.50,390.4 775.45,388.4 777.41,386.5 779.38,384.6 781.36,382.7 783.35,380.8 785.34,379.0 787.34,377.1 789.35,375.2 791.37,373.4 793.40,371.6 795.43,369.7 797.47,367.9 799.52,366.2 801.58,364.4 803.64,362.6 805.71,360.8 807.79,359.1 809.88,357.4 811.97,355.6 814.07,353.9 816.17,352.2 818.29,350.5 820.41,348.9 822.53,347.2 824.67,345.6 826.81,343.9 828.95,342.3 831.11,340.7 833.26,339.1 835.43,337.5 837.60,335.9 839.78,334.3 841.96,332.8 844.15,331.2 846.34,329.7 848.54,328.1 850.75,326.6 852.96,325.1 855.17,323.6 857.39,322.2 859.62,320.7 861.85,319.2 864.09,317.8 866.33,316.3 868.58,314.9 870.83,313.5 873.09,312.1 875.35,310.7 877.61,309.3 879.88,307.9 882.16,306.6 884.43,305.2 886.72,303.9 889.01,302.5 891.30,301.2 893.59,299.9 895.89,298.6 898.20,297.3 900.50,296.0 902.81,294.7 905.13,293.5 907.45,292.2 909.77,290.9 912.10,289.7 914.43,288.5 916.76,287.3 919.10,286.1 921.44,284.8 923.78,283.7 926.13,282.5 928.47,281.3 930.83,280.1 933.18,279.0 935.54,277.8 937.90,276.7 940.27,275.5 942.63,274.4 945.00,273.3 947.38,272.2 949.75,271.1 952.13,270.0 954.51,268.9 956.90,267.8 959.28,266.8 961.67,265.7 964.06,264.7 966.45,263.6 968.85,262.6 971.25,261.6 973.65,260.5 976.05,259.5 978.45,258.5 980.86,257.5 983.27,256.5 985.68,255.5 988.09,254.6 990.51,253.6 992.92,252.6 995.34,251.7 997.76,250.7 1000.19,249.8 1002.61,248.8 1005.04,247.9 1007.46,247.0 1009.89,246.1 1012.32,245.1 1014.76,244.2 1017.19,243.3 1019.63,242.4 1022.07,241.6 1024.51,240.7 1026.95,239.8 1029.39,238.9 1031.83,238.1 1034.28,237.2 1036.73,236.4 1039.17,235.5 1041.62,234.7 1044.07,233.8 1046.53,233.0 1048.98,232.2 1051.43,231.4 1053.89,230.6 1056.35,229.7 1058.81,228.9 1061.27,228.1 1063.73,227.4 1066.19,226.6 1068.65,225.8 1071.12,225.0 1073.58,224.2 1076.05,223.5 1078.52,222.7 1080.99,222.0 1083.46,221.2 1085.93,220.5 1088.40,219.7 1090.00,219.2"/>
<path stroke="#EDB120" d="M598.81,730.5 599.68,727.7 600.56,724.9 601.45,722.1 602.34,719.2 603.24,716.4 604.15,713.6 605.06,710.8 605.98,708.0 606.91,705.2 607.84,702.4 608.79,699.7 609.73,696.9 610.69,694.1 611.65,691.3 612.62,688.5 613.59,685.8 614.57,683.0 615.56,680.2 616.56,677.5 617.56,674.7 618.57,671.9 619.58,669.2 620.60,666.4 621.63,663.7 622.67,661.0 623.71,658.2 624.76,655.5 625.81,652.7 626.87,650.0 627.94,647.3 629.02,644.6 630.10,641.9 631.19,639.1 632.29,636.4 633.39,633.7 634.50,631.0 635.62,628.3 636.74,625.6 637.87,622.9 639.01,620.3 640.15,617.6 641.31,614.9 642.46,612.2 643.63,609.6 644.80,606.9 645.98,604.2 647.17,601.6 648.37,598.9 649.57,596.3 650.78,593.6 652.00,591.0 653.22,588.4 654.45,585.7 655.69,583.1 656.94,580.5 658.19,577.9 659.45,575.3 660.72,572.7 662.00,570.1 663.29,567.5 664.58,564.9 665.88,562.3 667.19,559.8 668.51,557.2 669.83,554.6 671.16,552.1 672.50,549.5 673.85,547.0 675.21,544.4 676.58,541.9 677.95,539.4 679.33,536.8 680.72,534.3 682.12,531.8 683.53,529.3 684.95,526.8 686.37,524.3 687.80,521.8 689.24,519.4 690.70,516.9 692.15,514.4 693.62,512.0 695.10,509.5 696.58,507.1 698.08,504.7 699.58,502.2 701.09,499.8 702.62,497.4 704.15,495.0 705.69,492.6 707.23,490.2 708.79,487.8 710.36,485.5 711.94,483.1 713.52,480.8 715.11,478.4 716.72,476.1 718.33,473.8 719.95,471.4 721.58,469.1 723.22,466.8 724.87,464.5 726.53,462.3 728.20,460.0 729.88,457.7 731.57,455.5 733.26,453.2 734.97,451.0 736.68,448.8 738.41,446.6 740.14,444.3 741.89,442.2 743.64,440.0 745.40,437.8 747.17,435.6 748.95,433.5 750.74,431.3 752.54,429.2 754.34,427.1 756.16,425.0 757.99,422.9 759.82,420.8 761.66,418.7 763.52,416.6 765.38,414.6 767.25,412.5 769.13,410.5 771.01,408.5 772.91,406.5 774.81,404.5 776.73,402.5 778.65,400.5 780.58,398.5 782.52,396.6 784.47,394.7 786.42,392.7 788.39,390.8 790.36,388.9 792.34,387.0 794.33,385.1 796.32,383.2 798.33,381.4 800.34,379.5 802.36,377.7 804.38,375.9 806.42,374.1 808.46,372.2 810.51,370.5 812.57,368.7 814.63,366.9 816.70,365.2 818.78,363.4 820.87,361.7 822.96,360.0 825.06,358.2 827.17,356.5 829.28,354.9 831.40,353.2 833.53,351.5 835.66,349.9 837.80,348.2 839.95,346.6 842.10,345.0 844.26,343.4 846.42,341.8 848.59,340.2 850.76,338.6 852.95,337.1 855.13,335.5 857.33,334.0 859.53,332.4 861.73,330.9 863.94,329.4 866.15,327.9 868.37,326.4 870.60,325.0 872.83,323.5 875.07,322.1 877.31,320.6 879.55,319.2 881.80,317.8 884.06,316.4 886.31,315.0 888.58,313.6 890.85,312.2 893.12,310.8 895.40,309.5 897.68,308.1 899.96,306.8 902.25,305.4 904.55,304.1 906.85,302.8 909.15,301.5 911.45,300.2 913.76,298.9 916.08,297.7 918.39,296.4 920.71,295.2 923.04,293.9 925.37,292.7 927.70,291.5 930.03,290.2 932.37,289.0 934.71,287.8 937.05,286.6 939.40,285.5 941.75,284.3 944.11,283.1 946.46,282.0 948.82,280.8 951.19,279.7 953.55,278.6 955.92,277.4 958.29,276.3 960.66,275.2 963.04,274.1 965.42,273.0 967.80,272.0 970.18,270.9 972.57,269.8 974.96,268.8 977.35,267.7 979.74,266.7 982.14,265.6 984.54,264.6 986.94,263.6 989.34,262.6 991.75,261.6 994.15,260.6 996.56,259.6 998.97,258.6 1001.39,257.6 1003.80,256.6 1006.22,255.7 1008.64,254.7 1011.06,253.8 1013.48,252.8 1015.90,251.9 1018.33,251.0 1020.76,250.0 1023.19,249.1 1025.62,248.2 1028.05,247.3 1030.49,246.4 1032.92,245.5 1035.36,244.6 1037.80,243.7 1040.24,242.9 1042.68,242.0 1045.13,241.1 1047.57,240.3 1050.02,239.4 1052.47,238.6 1054.92,237.7 1057.37,236.9 1059.82,236.1 1062.27,235.2 1064.73,234.4 1067.18,233.6 1069.64,232.8 1072.10,232.0 1074.56,231.2 1077.02,230.4 1079.48,229.6 1081.94,228.8 1084.41,228.1 1086.87,227.3 1089.34,226.5 1090.00,226.3"/>
<path stroke="#7E2F8E" d="M609.17,730.9 610.06,728.0 610.96,725.2 611.87,722.4 612.78,719.6 613.70,716.8 614.62,714.0 615.56,711.2 616.50,708.4 617.44,705.7 618.40,702.9 619.36,700.1 620.32,697.3 621.30,694.5 622.28,691.8 623.27,689.0 624.26,686.2 625.26,683.5 626.27,680.7 627.29,678.0 628.31,675.2 629.34,672.5 630.37,669.7 631.41,667.0 632.46,664.3 633.52,661.5 634.58,658.8 635.65,656.1 636.73,653.4 637.81,650.7 638.90,647.9 640.00,645.2 641.10,642.5 642.21,639.8 643.33,637.1 644.45,634.4 645.58,631.7 646.72,629.1 647.86,626.4 649.02,623.7 650.17,621.0 651.34,618.4 652.51,615.7 653.69,613.0 654.88,610.4 656.07,607.7 657.28,605.1 658.49,602.4 659.70,599.8 660.92,597.2 662.16,594.5 663.39,591.9 664.64,589.3 665.89,586.7 667.15,584.1 668.42,581.5 669.70,578.9 670.98,576.3 672.27,573.7 673.57,571.1 674.88,568.5 676.19,566.0 677.51,563.4 678.84,560.8 680.18,558.3 681.52,555.7 682.88,553.2 684.24,550.6 685.61,548.1 686.99,545.6 688.37,543.1 689.77,540.6 691.17,538.1 692.58,535.6 694.00,533.1 695.43,530.6 696.87,528.1 698.31,525.6 699.76,523.1 701.23,520.7 702.70,518.2 704.18,515.8 705.66,513.4 707.16,510.9 708.67,508.5 710.18,506.1 711.70,503.7 713.23,501.3 714.77,498.9 716.32,496.5 717.88,494.1 719.45,491.8 721.03,489.4 722.61,487.0 724.21,484.7 725.81,482.4 727.42,480.0 729.04,477.7 730.67,475.4 732.31,473.1 733.96,470.8 735.62,468.5 737.29,466.3 738.96,464.0 740.65,461.7 742.34,459.5 744.05,457.3 745.76,455.0 747.48,452.8 749.21,450.6 750.95,448.4 752.70,446.2 754.46,444.1 756.23,441.9 758.01,439.7 759.79,437.6 761.58,435.4 763.39,433.3 765.20,431.2 767.02,429.1 768.85,427.0 770.69,424.9 772.54,422.9 774.40,420.8 776.26,418.7 778.13,416.7 780.02,414.7 781.91,412.7 783.81,410.7 785.72,408.7 787.63,406.7 789.56,404.7 791.49,402.7 793.43,400.8 795.38,398.9 797.34,396.9 799.31,395.0 801.28,393.1 803.26,391.2 805.25,389.3 807.25,387.5 809.26,385.6 811.27,383.8 813.29,381.9 815.32,380.1 817.36,378.3 819.40,376.5 821.45,374.7 823.51,372.9 825.57,371.1 827.65,369.4 829.73,367.6 831.81,365.9 833.90,364.2 836.00,362.5 838.11,360.8 840.22,359.1 842.34,357.4 844.47,355.8 846.60,354.1 848.74,352.5 850.89,350.8 853.04,349.2 855.20,347.6 857.36,346.0 859.53,344.4 861.70,342.9 863.89,341.3 866.07,339.7 868.26,338.2 870.46,336.7 872.66,335.2 874.87,333.7 877.09,332.2 879.31,330.7 881.53,329.2 883.76,327.7 885.99,326.3 888.23,324.8 890.48,323.4 892.72,322.0 894.98,320.6 897.24,319.2 899.50,317.8 901.76,316.4 904.04,315.0 906.31,313.6 908.59,312.3 910.88,311.0 913.16,309.6 915.46,308.3 917.75,307.0 920.05,305.7 922.36,304.4 924.66,303.1 926.98,301.8 929.29,300.6 931.61,299.3 933.93,298.1 936.26,296.8 938.59,295.6 940.92,294.4 943.26,293.2 945.59,292.0 947.94,290.8 950.28,289.6 952.63,288.4 954.98,287.2 957.34,286.1 959.70,284.9 962.06,283.8 964.42,282.6 966.79,281.5 969.16,280.4 971.53,279.3 973.90,278.2 976.28,277.1 978.66,276.0 981.04,274.9 983.42,273.9 985.81,272.8 988.20,271.7 990.59,270.7 992.99,269.6 995.38,268.6 997.78,267.6 1000.18,266.6 1002.59,265.6 1004.99,264.6 1007.40,263.6 1009.81,262.6 1012.22,261.6 1014.63,260.6 1017.05,259.6 1019.46,258.7 1021.88,257.7 1024.30,256.8 1026.73,255.8 1029.15,254.9 1031.58,254.0 1034.01,253.0 1036.44,252.1 1038.87,251.2 1041.30,250.3 1043.73,249.4 1046.17,248.5 1048.61,247.6 1051.05,246.7 1053.49,245.9 1055.93,245.0 1058.37,244.1 1060.82,243.3 1063.27,242.4 1065.71,241.6 1068.16,240.7 1070.61,239.9 1073.06,239.1 1075.52,238.2 1077.97,237.4 1080.43,236.6 1082.89,235.8 1085.34,235.0 1087.80,234.2 1090.00,233.5"/>
<path stroke="#77AC30" d="M619.40,731.6 620.31,728.8 621.22,726.0 622.14,723.2 623.07,720.4 624.01,717.6 624.96,714.8 625.91,712.0 626.86,709.3 627.83,706.5 628.80,703.7 629.78,700.9 630.77,698.2 631.76,695.4 632.76,692.6 633.77,689.9 634.78,687.1 635.80,684.4 636.83,681.6 637.86,678.9 638.90,676.2 639.95,673.4 641.00,670.7 642.06,668.0 643.13,665.2 644.21,662.5 645.29,659.8 646.38,657.1 647.47,654.4 648.57,651.7 649.68,649.0 650.80,646.3 651.92,643.6 653.05,640.9 654.19,638.2 655.33,635.5 656.48,632.8 657.64,630.2 658.80,627.5 659.97,624.8 661.15,622.2 662.34,619.5 663.53,616.9 664.73,614.2 665.94,611.6 667.15,608.9 668.37,606.3 669.60,603.7 670.84,601.0 672.08,598.4 673.33,595.8 674.59,593.2 675.85,590.6 677.13,588.0 678.41,585.4 679.70,582.8 680.99,580.2 682.29,577.6 683.60,575.1 684.92,572.5 686.25,569.9 687.58,567.4 688.92,564.8 690.27,562.3 691.63,559.7 692.99,557.2 694.37,554.7 695.75,552.1 697.14,549.6 698.53,547.1 699.94,544.6 701.35,542.1 702.78,539.6 704.21,537.1 705.64,534.7 707.09,532.2 708.54,529.7 710.01,527.3 711.48,524.8 712.96,522.4 714.45,519.9 715.95,517.5 717.45,515.1 718.97,512.7 720.49,510.3 722.02,507.9 723.56,505.5 725.11,503.1 726.67,500.7 728.23,498.3 729.81,496.0 731.39,493.6 732.99,491.3 734.59,488.9 736.20,486.6 737.82,484.3 739.45,482.0 741.09,479.7 742.73,477.4 744.39,475.1 746.05,472.8 747.73,470.6 749.41,468.3 751.10,466.1 752.80,463.8 754.51,461.6 756.23,459.4 757.96,457.2 759.69,455.0 761.44,452.8 763.19,450.6 764.95,448.4 766.73,446.2 768.51,444.1 770.30,442.0 772.10,439.8 773.90,437.7 775.72,435.6 777.54,433.5 779.38,431.4 781.22,429.3 783.07,427.3 784.93,425.2 786.80,423.2 788.67,421.1 790.56,419.1 792.45,417.1 794.35,415.1 796.26,413.1 798.18,411.1 800.11,409.1 802.05,407.2 803.99,405.2 805.94,403.3 807.90,401.4 809.87,399.5 811.84,397.5 813.82,395.7 815.82,393.8 817.81,391.9 819.82,390.0 821.83,388.2 823.85,386.4 825.88,384.5 827.92,382.7 829.96,380.9 832.01,379.1 834.07,377.4 836.14,375.6 838.21,373.8 840.29,372.1 842.37,370.4 844.46,368.6 846.56,366.9 848.67,365.2 850.78,363.5 852.90,361.9 855.03,360.2 857.16,358.6 859.30,356.9 861.44,355.3 863.59,353.7 865.75,352.0 867.91,350.4 870.07,348.9 872.25,347.3 874.43,345.7 876.61,344.2 878.80,342.6 881.00,341.1 883.20,339.6 885.41,338.1 887.62,336.6 889.84,335.1 892.06,333.6 894.28,332.1 896.52,330.7 898.75,329.2 901.00,327.8 903.24,326.3 905.49,324.9 907.75,323.5 910.01,322.1 912.27,320.7 914.54,319.4 916.82,318.0 919.09,316.6 921.38,315.3 923.66,313.9 925.95,312.6 928.25,311.3 930.54,310.0 932.85,308.7 935.15,307.4 937.46,306.1 939.77,304.9 942.09,303.6 944.41,302.3 946.73,301.1 949.06,299.9 951.39,298.6 953.72,297.4 956.06,296.2 958.40,295.0 960.74,293.8 963.09,292.6 965.44,291.5 967.79,290.3 970.15,289.1 972.51,288.0 974.87,286.8 977.23,285.7 979.60,284.6 981.97,283.5 984.34,282.4 986.72,281.3 989.09,280.2 991.47,279.1 993.85,278.0 996.24,276.9 998.63,275.9 1001.02,274.8 1003.41,273.8 1005.80,272.7 1008.20,271.7 1010.60,270.7 1013.00,269.7 1015.40,268.6 1017.81,267.6 1020.21,266.6 1022.62,265.7 1025.03,264.7 1027.45,263.7 1029.86,262.7 1032.28,261.8 1034.70,260.8 1037.12,259.9 1039.54,258.9 1041.97,258.0 1044.39,257.0 1046.82,256.1 1049.25,255.2 1051.68,254.3 1054.11,253.4 1056.55,252.5 1058.98,251.6 1061.42,250.7 1063.86,249.8 1066.30,248.9 1068.74,248.1 1071.19,247.2 1073.63,246.3 1076.08,245.5 1078.52,244.6 1080.97,243.8 1083.42,243.0 1085.88,242.1 1088.33,241.3 1090.00,240.8"/>
<path stroke="#4DBEEE" d="M629.76,731.9 630.69,729.1 631.62,726.3 632.56,723.5 633.51,720.7 634.47,718.0 635.43,715.2 636.40,712.4 637.38,709.6 638.36,706.9 639.35,704.1 640.35,701.3 641.36,698.6 642.37,695.8 643.39,693.1 644.41,690.3 645.45,687.6 646.49,684.8 647.53,682.1 648.59,679.4 649.65,676.6 650.71,673.9 651.79,671.2 652.87,668.5 653.96,665.8 655.05,663.1 656.15,660.4 657.26,657.6 658.38,655.0 659.50,652.3 660.63,649.6 661.76,646.9 662.91,644.2 664.06,641.5 665.21,638.8 666.38,636.2 667.55,633.5 668.73,630.8 669.91,628.2 671.10,625.5 672.30,622.9 673.51,620.2 674.72,617.6 675.94,615.0 677.17,612.3 678.40,609.7 679.65,607.1 680.89,604.5 682.15,601.9 683.41,599.3 684.68,596.7 685.96,594.1 687.25,591.5 688.54,588.9 689.84,586.3 691.15,583.7 692.47,581.2 693.79,578.6 695.12,576.0 696.46,573.5 697.81,570.9 699.16,568.4 700.52,565.8 701.89,563.3 703.27,560.8 704.65,558.3 706.05,555.8 707.45,553.2 708.86,550.7 710.27,548.3 711.70,545.8 713.13,543.3 714.57,540.8 716.02,538.3 717.48,535.9 718.94,533.4 720.42,531.0 721.90,528.5 723.39,526.1 724.89,523.7 726.40,521.2 727.92,518.8 729.44,516.4 730.97,514.0 732.51,511.6 734.07,509.2 735.62,506.9 737.19,504.5 738.77,502.1 740.35,499.8 741.95,497.4 743.55,495.1 745.16,492.8 746.78,490.5 748.41,488.1 750.04,485.8 751.69,483.6 753.34,481.3 755.01,479.0 756.68,476.7 758.36,474.5 760.05,472.2 761.75,470.0 763.46,467.7 765.17,465.5 766.90,463.3 768.63,461.1 770.37,458.9 772.13,456.7 773.89,454.6 775.65,452.4 777.43,450.2 779.22,448.1 781.01,446.0 782.82,443.8 784.63,441.7 786.45,439.6 788.28,437.5 790.12,435.4 791.96,433.4 793.82,431.3 795.68,429.2 797.56,427.2 799.44,425.2 801.32,423.2 803.22,421.1 805.13,419.1 807.04,417.2 808.96,415.2 810.89,413.2 812.83,411.3 814.78,409.3 816.73,407.4 818.69,405.5 820.66,403.6 822.64,401.7 824.62,399.8 826.62,397.9 828.62,396.0 830.62,394.2 832.64,392.3 834.66,390.5 836.69,388.7 838.73,386.9 840.77,385.1 842.82,383.3 844.88,381.5 846.95,379.7 849.02,378.0 851.10,376.2 853.19,374.5 855.28,372.8 857.38,371.1 859.48,369.4 861.60,367.7 863.72,366.0 865.84,364.3 867.97,362.7 870.11,361.0 872.25,359.4 874.40,357.8 876.56,356.2 878.72,354.6 880.89,353.0 883.06,351.4 885.24,349.9 887.42,348.3 889.61,346.8 891.81,345.2 894.01,343.7 896.21,342.2 898.42,340.7 900.64,339.2 902.86,337.7 905.09,336.2 907.32,334.8 909.55,333.3 911.79,331.9 914.04,330.5 916.29,329.0 918.54,327.6 920.80,326.2 923.07,324.8 925.33,323.4 927.60,322.1 929.88,320.7 932.16,319.4 934.45,318.0 936.73,316.7 939.03,315.4 941.32,314.1 943.62,312.8 945.93,311.5 948.23,310.2 950.54,308.9 952.86,307.6 955.18,306.4 957.50,305.1 959.82,303.9 962.15,302.7 964.49,301.4 966.82,300.2 969.16,299.0 971.50,297.8 973.84,296.6 976.19,295.5 978.54,294.3 980.90,293.1 983.25,292.0 985.61,290.8 987.98,289.7 990.34,288.6 992.71,287.4 995.08,286.3 997.45,285.2 999.83,284.1 1002.21,283.0 1004.59,281.9 1006.97,280.9 1009.35,279.8 1011.74,278.7 1014.13,277.7 1016.52,276.6 1018.92,275.6 1021.32,274.6 1023.72,273.6 1026.12,272.5 1028.52,271.5 1030.93,270.5 1033.33,269.5 1035.74,268.5 1038.15,267.6 1040.57,266.6 1042.98,265.6 1045.40,264.7 1047.82,263.7 1050.24,262.7 1052.66,261.8 1055.09,260.9 1057.51,259.9 1059.94,259.0 1062.37,258.1 1064.80,257.2 1067.23,256.3 1069.67,255.4 1072.10,254.5 1074.54,253.6 1076.98,252.7 1079.42,251.8 1081.86,251.0 1084.31,250.1 1086.75,249.2 1089.20,248.4 1090.00,248.1"/>
<path stroke="#A2142F" d="M639.99,732.6 640.93,729.8 641.88,727.0 642.84,724.2 643.81,721.5 644.78,718.7 645.76,715.9 646.75,713.2 647.74,710.4 648.74,707.6 649.75,704.9 650.77,702.1 651.79,699.4 652.82,696.6 653.86,693.9 654.90,691.2 655.95,688.4 657.01,685.7 658.08,683.0 659.15,680.2 660.23,677.5 661.31,674.8 662.41,672.1 663.50,669.4 664.61,666.7 665.72,664.0 666.85,661.3 667.97,658.6 669.11,655.9 670.25,653.2 671.40,650.6 672.55,647.9 673.71,645.2 674.88,642.5 676.06,639.9 677.24,637.2 678.43,634.6 679.63,631.9 680.83,629.3 682.04,626.6 683.26,624.0 684.48,621.4 685.72,618.7 686.96,616.1 688.20,613.5 689.46,610.9 690.72,608.3 691.98,605.7 693.26,603.1 694.54,600.5 695.83,597.9 697.13,595.3 698.43,592.7 699.75,590.2 701.07,587.6 702.39,585.0 703.73,582.5 705.07,579.9 706.42,577.4 707.78,574.8 709.14,572.3 710.51,569.8 711.89,567.2 713.28,564.7 714.68,562.2 716.08,559.7 717.49,557.2 718.91,554.7 720.34,552.2 721.77,549.7 723.22,547.3 724.67,544.8 726.13,542.3 727.59,539.9 729.07,537.4 730.55,535.0 732.05,532.6 733.55,530.1 735.05,527.7 736.57,525.3 738.10,522.9 739.63,520.5 741.17,518.1 742.72,515.7 744.28,513.3 745.85,511.0 747.42,508.6 749.01,506.3 750.60,503.9 752.20,501.6 753.81,499.2 755.43,496.9 757.05,494.6 758.69,492.3 760.33,490.0 761.98,487.7 763.65,485.4 765.32,483.2 766.99,480.9 768.68,478.7 770.38,476.4 772.08,474.2 773.79,472.0 775.52,469.7 777.25,467.5 778.98,465.3 780.73,463.2 782.49,461.0 784.25,458.8 786.03,456.6 787.81,454.5 789.60,452.4 791.40,450.2 793.21,448.1 795.02,446.0 796.85,443.9 798.68,441.8 800.52,439.7 802.37,437.7 804.23,435.6 806.09,433.6 807.97,431.5 809.85,429.5 811.74,427.5 813.64,425.5 815.55,423.5 817.47,421.5 819.39,419.5 821.32,417.5 823.26,415.6 825.21,413.7 827.16,411.7 829.13,409.8 831.10,407.9 833.07,406.0 835.06,404.1 837.05,402.2 839.05,400.4 841.06,398.5 843.08,396.7 845.10,394.8 847.13,393.0 849.17,391.2 851.21,389.4 853.26,387.6 855.32,385.8 857.39,384.1 859.46,382.3 861.54,380.6 863.62,378.8 865.72,377.1 867.81,375.4 869.92,373.7 872.03,372.0 874.15,370.3 876.27,368.7 878.40,367.0 880.54,365.4 882.68,363.7 884.83,362.1 886.98,360.5 889.14,358.9 891.31,357.3 893.48,355.7 895.66,354.2 897.84,352.6 900.03,351.1 902.22,349.5 904.42,348.0 906.63,346.5 908.83,345.0 911.05,343.5 913.27,342.0 915.49,340.5 917.72,339.1 919.95,337.6 922.19,336.2 924.44,334.7 926.68,333.3 928.94,331.9 931.19,330.5 933.45,329.1 935.72,327.7 937.99,326.3 940.26,325.0 942.54,323.6 944.82,322.3 947.11,320.9 949.40,319.6 951.69,318.3 953.99,317.0 956.29,315.7 958.60,314.4 960.91,313.1 963.22,311.8 965.54,310.6 967.86,309.3 970.18,308.1 972.50,306.8 974.83,305.6 977.17,304.4 979.50,303.2 981.84,302.0 984.19,300.8 986.53,299.6 988.88,298.4 991.23,297.2 993.58,296.1 995.94,294.9 998.30,293.8 1000.66,292.7 1003.03,291.5 1005.40,290.4 1007.77,289.3 1010.14,288.2 1012.52,287.1 1014.90,286.0 1017.28,284.9 1019.66,283.9 1022.05,282.8 1024.44,281.7 1026.83,280.7 1029.22,279.6 1031.61,278.6 1034.01,277.6 1036.41,276.5 1038.81,275.5 1041.22,274.5 1043.62,273.5 1046.03,272.5 1048.44,271.5 1050.85,270.5 1053.26,269.6 1055.68,268.6 1058.09,267.6 1060.51,266.7 1062.93,265.7 1065.36,264.8 1067.78,263.9 1070.21,262.9 1072.64,262.0 1075.06,261.1 1077.50,260.2 1079.93,259.3 1082.36,258.4 1084.80,257.5 1087.23,256.6 1089.67,255.7 1090.00,255.6"/>
<path stroke="#0072BD" d="M650.37,732.8 651.33,730.0 652.30,727.2 653.28,724.5 654.26,721.7 655.26,718.9 656.26,716.2 657.26,713.4 658.28,710.7 659.30,707.9 660.32,705.2 661.36,702.4 662.40,699.7 663.45,697.0 664.51,694.2 665.57,691.5 666.64,688.8 667.72,686.1 668.80,683.3 669.89,680.6 670.99,677.9 672.10,675.2 673.21,672.5 674.33,669.8 675.45,667.1 676.59,664.4 677.73,661.8 678.87,659.1 680.03,656.4 681.19,653.7 682.35,651.1 683.53,648.4 684.71,645.7 685.90,643.1 687.10,640.4 688.30,637.8 689.51,635.1 690.72,632.5 691.95,629.9 693.18,627.2 694.42,624.6 695.66,622.0 696.91,619.4 698.17,616.8 699.44,614.2 700.71,611.6 701.99,609.0 703.28,606.4 704.58,603.8 705.88,601.2 707.19,598.7 708.51,596.1 709.83,593.5 711.16,591.0 712.50,588.4 713.85,585.9 715.20,583.3 716.56,580.8 717.93,578.2 719.31,575.7 720.69,573.2 722.09,570.7 723.49,568.2 724.89,565.7 726.31,563.2 727.73,560.7 729.16,558.2 730.60,555.7 732.05,553.3 733.50,550.8 734.96,548.3 736.43,545.9 737.91,543.4 739.40,541.0 740.89,538.6 742.40,536.1 743.91,533.7 745.42,531.3 746.95,528.9 748.49,526.5 750.03,524.1 751.58,521.7 753.14,519.4 754.71,517.0 756.28,514.6 757.87,512.3 759.46,509.9 761.06,507.6 762.67,505.3 764.29,502.9 765.92,500.6 767.55,498.3 769.20,496.0 770.85,493.7 772.51,491.5 774.18,489.2 775.85,486.9 777.54,484.7 779.24,482.4 780.94,480.2 782.65,478.0 784.37,475.8 786.10,473.5 787.83,471.3 789.58,469.2 791.33,467.0 793.10,464.8 794.87,462.6 796.65,460.5 798.43,458.3 800.23,456.2 802.03,454.1 803.85,452.0 805.67,449.9 807.50,447.8 809.33,445.7 811.18,443.6 813.03,441.6 814.90,439.5 816.77,437.5 818.65,435.4 820.53,433.4 822.43,431.4 824.33,429.4 826.24,427.4 828.16,425.4 830.09,423.5 832.02,421.5 833.96,419.5 835.91,417.6 837.87,415.7 839.84,413.8 841.81,411.9 843.79,410.0 845.78,408.1 847.77,406.2 849.78,404.3 851.79,402.5 853.80,400.6 855.83,398.8 857.86,397.0 859.90,395.2 861.94,393.4 864.00,391.6 866.06,389.8 868.12,388.1 870.19,386.3 872.27,384.6 874.36,382.8 876.45,381.1 878.55,379.4 880.66,377.7 882.77,376.0 884.89,374.4 887.01,372.7 889.14,371.0 891.28,369.4 893.42,367.8 895.57,366.1 897.72,364.5 899.88,362.9 902.05,361.3 904.22,359.7 906.39,358.2 908.58,356.6 910.76,355.1 912.96,353.5 915.15,352.0 917.36,350.5 919.57,349.0 921.78,347.5 924.00,346.0 926.22,344.5 928.45,343.0 930.68,341.6 932.92,340.1 935.16,338.7 937.41,337.3 939.66,335.9 941.91,334.5 944.17,333.1 946.44,331.7 948.70,330.3 950.98,328.9 953.25,327.6 955.53,326.2 957.82,324.9 960.11,323.5 962.40,322.2 964.70,320.9 967.00,319.6 969.30,318.3 971.61,317.0 973.92,315.8 976.23,314.5 978.55,313.2 980.87,312.0 983.20,310.7 985.53,309.5 987.86,308.3 990.19,307.1 992.53,305.9 994.87,304.7 997.21,303.5 999.56,302.3 1001.91,301.1 1004.26,300.0 1006.62,298.8 1008.98,297.7 1011.34,296.5 1013.70,295.4 1016.07,294.3 1018.44,293.1 1020.81,292.0 1023.18,290.9 1025.56,289.8 1027.94,288.8 1030.32,287.7 1032.71,286.6 1035.09,285.5 1037.48,284.5 1039.87,283.4 1042.27,282.4 1044.66,281.4 1047.06,280.3 1049.46,279.3 1051.86,278.3 1054.26,277.3 1056.67,276.3 1059.08,275.3 1061.49,274.3 1063.90,273.3 1066.31,272.3 1068.73,271.4 1071.15,270.4 1073.57,269.5 1075.99,268.5 1078.41,267.6 1080.83,266.6 1083.26,265.7 1085.69,264.8 1088.12,263.9 1090.00,263.2"/>
<path stroke="#D95319" d="M660.54,733.6 661.52,730.8 662.51,728.1 663.50,725.3 664.50,722.5 665.51,719.8 666.53,717.0 667.55,714.3 668.58,711.5 669.62,708.8 670.66,706.1 671.71,703.3 672.77,700.6 673.84,697.9 674.91,695.1 675.99,692.4 677.08,689.7 678.18,687.0 679.28,684.3 680.39,681.6 681.50,678.9 682.63,676.2 683.76,673.5 684.89,670.8 686.04,668.1 687.19,665.5 688.34,662.8 689.51,660.1 690.68,657.5 691.86,654.8 693.05,652.1 694.24,649.5 695.44,646.8 696.64,644.2 697.86,641.6 699.08,638.9 700.31,636.3 701.54,633.7 702.78,631.0 704.03,628.4 705.29,625.8 706.55,623.2 707.82,620.6 709.10,618.0 710.38,615.4 711.67,612.8 712.97,610.3 714.28,607.7 715.59,605.1 716.91,602.5 718.24,600.0 719.57,597.4 720.92,594.9 722.27,592.3 723.62,589.8 724.99,587.2 726.36,584.7 727.74,582.2 729.13,579.7 730.52,577.2 731.92,574.7 733.33,572.2 734.75,569.7 736.17,567.2 737.61,564.7 739.05,562.2 740.49,559.7 741.95,557.3 743.41,554.8 744.88,552.4 746.36,549.9 747.85,547.5 749.34,545.0 750.85,542.6 752.36,540.2 753.88,537.8 755.40,535.4 756.94,533.0 758.48,530.6 760.03,528.2 761.59,525.8 763.16,523.5 764.73,521.1 766.32,518.8 767.91,516.4 769.51,514.1 771.12,511.7 772.73,509.4 774.36,507.1 775.99,504.8 777.63,502.5 779.28,500.2 780.94,497.9 782.61,495.7 784.28,493.4 785.96,491.1 787.66,488.9 789.36,486.7 791.06,484.4 792.78,482.2 794.51,480.0 796.24,477.8 797.98,475.6 799.73,473.4 801.49,471.2 803.25,469.1 805.03,466.9 806.81,464.8 808.60,462.6 810.40,460.5 812.21,458.4 814.03,456.3 815.85,454.2 817.68,452.1 819.52,450.0 821.37,447.9 823.23,445.9 825.09,443.8 826.97,441.8 828.85,439.7 830.74,437.7 832.63,435.7 834.54,433.7 836.45,431.7 838.37,429.8 840.30,427.8 842.23,425.8 844.18,423.9 846.13,421.9 848.09,420.0 850.05,418.1 852.03,416.2 854.01,414.3 856.00,412.4 857.99,410.5 859.99,408.7 862.00,406.8 864.02,405.0 866.05,403.2 868.08,401.3 870.12,399.5 872.16,397.7 874.21,396.0 876.27,394.2 878.34,392.4 880.41,390.7 882.49,388.9 884.57,387.2 886.66,385.5 888.76,383.8 890.87,382.1 892.98,380.4 895.09,378.7 897.22,377.0 899.35,375.4 901.48,373.7 903.62,372.1 905.77,370.4 907.92,368.8 910.08,367.2 912.24,365.6 914.41,364.1 916.59,362.5 918.77,360.9 920.95,359.4 923.14,357.8 925.34,356.3 927.54,354.8 929.75,353.3 931.96,351.8 934.17,350.3 936.39,348.8 938.62,347.3 940.85,345.9 943.09,344.4 945.33,343.0 947.57,341.5 949.82,340.1 952.07,338.7 954.33,337.3 956.59,335.9 958.86,334.5 961.13,333.1 963.40,331.8 965.68,330.4 967.96,329.1 970.25,327.7 972.54,326.4 974.83,325.1 977.13,323.8 979.43,322.5 981.74,321.2 984.05,319.9 986.36,318.7 988.68,317.4 990.99,316.1 993.32,314.9 995.64,313.7 997.97,312.4 1000.30,311.2 1002.64,310.0 1004.98,308.8 1007.32,307.6 1009.66,306.4 1012.01,305.2 1014.36,304.1 1016.71,302.9 1019.07,301.7 1021.43,300.6 1023.79,299.5 1026.16,298.3 1028.52,297.2 1030.89,296.1 1033.26,295.0 1035.64,293.9 1038.02,292.8 1040.39,291.7 1042.78,290.6 1045.16,289.5 1047.55,288.5 1049.94,287.4 1052.33,286.4 1054.72,285.3 1057.12,284.3 1059.51,283.3 1061.91,282.3 1064.32,281.2 1066.72,280.2 1069.13,279.2 1071.53,278.2 1073.94,277.3 1076.36,276.3 1078.77,275.3 1081.18,274.3 1083.60,273.4 1086.02,272.4 1088.44,271.5 1090.00,270.9"/>
<path stroke="#EDB120" d="M670.92,733.8 671.92,731.0 672.92,728.3 673.93,725.5 674.95,722.8 675.98,720.0 677.01,717.3 678.05,714.5 679.10,711.8 680.16,709.1 681.22,706.4 682.29,703.6 683.37,700.9 684.45,698.2 685.54,695.5 686.64,692.8 687.75,690.1 688.86,687.4 689.98,684.7 691.11,682.0 692.25,679.3 693.39,676.6 694.54,673.9 695.69,671.3 696.85,668.6 698.02,665.9 699.20,663.3 700.38,660.6 701.58,657.9 702.77,655.3 703.98,652.7 705.19,650.0 706.41,647.4 707.63,644.7 708.87,642.1 710.11,639.5 711.35,636.9 712.61,634.3 713.87,631.7 715.14,629.1 716.41,626.5 717.69,623.9 718.98,621.3 720.28,618.7 721.58,616.1 722.89,613.5 724.21,611.0 725.54,608.4 726.87,605.8 728.21,603.3 729.55,600.7 730.91,598.2 732.27,595.7 733.64,593.1 735.01,590.6 736.40,588.1 737.79,585.6 739.19,583.1 740.59,580.6 742.00,578.1 743.43,575.6 744.85,573.1 746.29,570.6 747.73,568.1 749.18,565.7 750.64,563.2 752.11,560.7 753.58,558.3 755.06,555.8 756.55,553.4 758.05,551.0 759.56,548.6 761.07,546.1 762.59,543.7 764.12,541.3 765.65,538.9 767.20,536.5 768.75,534.2 770.31,531.8 771.88,529.4 773.46,527.1 775.04,524.7 776.63,522.4 778.23,520.0 779.84,517.7 781.46,515.4 783.08,513.1 784.72,510.8 786.36,508.5 788.01,506.2 789.66,503.9 791.33,501.6 793.00,499.3 794.68,497.1 796.37,494.8 798.07,492.6 799.78,490.4 801.49,488.1 803.22,485.9 804.95,483.7 806.69,481.5 808.44,479.3 810.19,477.2 811.96,475.0 813.73,472.8 815.51,470.7 817.30,468.5 819.09,466.4 820.90,464.3 822.71,462.2 824.53,460.1 826.36,458.0 828.20,455.9 830.04,453.8 831.90,451.8 833.76,449.7 835.63,447.7 837.50,445.6 839.39,443.6 841.28,441.6 843.18,439.6 845.09,437.6 847.00,435.6 848.93,433.6 850.86,431.7 852.80,429.7 854.74,427.8 856.70,425.8 858.66,423.9 860.62,422.0 862.60,420.1 864.58,418.2 866.57,416.3 868.57,414.5 870.58,412.6 872.59,410.7 874.61,408.9 876.63,407.1 878.66,405.3 880.70,403.5 882.75,401.7 884.80,399.9 886.86,398.1 888.93,396.3 891.00,394.6 893.08,392.8 895.17,391.1 897.26,389.4 899.36,387.7 901.46,386.0 903.57,384.3 905.69,382.6 907.81,381.0 909.94,379.3 912.08,377.6 914.22,376.0 916.36,374.4 918.52,372.8 920.67,371.2 922.84,369.6 925.01,368.0 927.18,366.4 929.36,364.8 931.54,363.3 933.73,361.8 935.93,360.2 938.13,358.7 940.34,357.2 942.55,355.7 944.76,354.2 946.98,352.7 949.21,351.2 951.44,349.8 953.67,348.3 955.91,346.9 958.15,345.4 960.40,344.0 962.65,342.6 964.91,341.2 967.17,339.8 969.43,338.4 971.70,337.0 973.97,335.7 976.25,334.3 978.53,333.0 980.82,331.6 983.11,330.3 985.40,329.0 987.69,327.7 989.99,326.4 992.30,325.1 994.61,323.8 996.92,322.5 999.23,321.2 1001.55,320.0 1003.87,318.7 1006.19,317.5 1008.52,316.3 1010.85,315.0 1013.18,313.8 1015.52,312.6 1017.86,311.4 1020.20,310.2 1022.55,309.0 1024.90,307.9 1027.25,306.7 1029.60,305.5 1031.96,304.4 1034.32,303.2 1036.68,302.1 1039.05,301.0 1041.42,299.9 1043.79,298.7 1046.16,297.6 1048.54,296.5 1050.91,295.5 1053.29,294.4 1055.68,293.3 1058.06,292.2 1060.45,291.2 1062.84,290.1 1065.23,289.1 1067.62,288.0 1070.02,287.0 1072.42,286.0 1074.82,285.0 1077.22,283.9 1079.62,282.9 1082.03,281.9 1084.44,280.9 1086.85,280.0 1089.26,279.0 1090.00,278.7"/>
<path stroke="#7E2F8E" d="M681.26,734.1 682.27,731.3 683.29,728.6 684.32,725.9 685.36,723.1 686.40,720.4 687.45,717.6 688.51,714.9 689.58,712.2 690.65,709.5 691.73,706.7 692.82,704.0 693.91,701.3 695.02,698.6 696.13,695.9 697.25,693.2 698.37,690.5 699.50,687.8 700.64,685.1 701.79,682.5 702.94,679.8 704.10,677.1 705.27,674.5 706.44,671.8 707.62,669.1 708.81,666.5 710.00,663.8 711.21,661.2 712.42,658.5 713.63,655.9 714.86,653.3 716.09,650.6 717.32,648.0 718.57,645.4 719.82,642.8 721.08,640.2 722.34,637.6 723.61,635.0 724.89,632.4 726.18,629.8 727.47,627.2 728.77,624.6 730.08,622.0 731.40,619.5 732.72,616.9 734.05,614.3 735.38,611.8 736.73,609.2 738.08,606.7 739.44,604.1 740.80,601.6 742.17,599.1 743.55,596.6 744.94,594.0 746.33,591.5 747.74,589.0 749.14,586.5 750.56,584.0 751.98,581.5 753.42,579.0 754.85,576.6 756.30,574.1 757.75,571.6 759.22,569.2 760.68,566.7 762.16,564.3 763.64,561.8 765.14,559.4 766.63,557.0 768.14,554.5 769.66,552.1 771.18,549.7 772.71,547.3 774.25,544.9 775.79,542.5 777.34,540.2 778.91,537.8 780.48,535.4 782.05,533.1 783.64,530.7 785.23,528.4 786.83,526.0 788.44,523.7 790.06,521.4 791.68,519.1 793.31,516.8 794.95,514.5 796.60,512.2 798.26,509.9 799.92,507.6 801.60,505.3 803.28,503.1 804.97,500.8 806.66,498.6 808.37,496.4 810.08,494.1 811.80,491.9 813.53,489.7 815.27,487.5 817.01,485.3 818.77,483.1 820.53,481.0 822.30,478.8 824.07,476.7 825.86,474.5 827.65,472.4 829.46,470.2 831.26,468.1 833.08,466.0 834.91,463.9 836.74,461.8 838.58,459.8 840.43,457.7 842.29,455.6 844.15,453.6 846.02,451.5 847.91,449.5 849.79,447.5 851.69,445.5 853.59,443.5 855.50,441.5 857.42,439.5 859.35,437.5 861.28,435.6 863.22,433.6 865.17,431.7 867.13,429.8 869.09,427.8 871.06,425.9 873.04,424.0 875.02,422.1 877.01,420.3 879.01,418.4 881.02,416.5 883.03,414.7 885.05,412.9 887.08,411.0 889.11,409.2 891.15,407.4 893.20,405.6 895.25,403.8 897.31,402.1 899.38,400.3 901.45,398.6 903.53,396.8 905.62,395.1 907.71,393.4 909.81,391.6 911.92,390.0 914.03,388.3 916.14,386.6 918.27,384.9 920.39,383.3 922.53,381.6 924.67,380.0 926.82,378.3 928.97,376.7 931.12,375.1 933.29,373.5 935.45,371.9 937.63,370.4 939.81,368.8 941.99,367.2 944.18,365.7 946.37,364.2 948.57,362.6 950.78,361.1 952.99,359.6 955.20,358.1 957.42,356.6 959.64,355.2 961.87,353.7 964.10,352.3 966.34,350.8 968.58,349.4 970.83,347.9 973.08,346.5 975.34,345.1 977.59,343.7 979.86,342.3 982.13,341.0 984.40,339.6 986.67,338.2 988.95,336.9 991.24,335.5 993.52,334.2 995.81,332.9 998.11,331.6 1000.41,330.2 1002.71,329.0 1005.01,327.7 1007.32,326.4 1009.63,325.1 1011.95,323.8 1014.27,322.6 1016.59,321.3 1018.92,320.1 1021.25,318.9 1023.58,317.7 1025.91,316.4 1028.25,315.2 1030.59,314.0 1032.94,312.9 1035.28,311.7 1037.63,310.5 1039.99,309.3 1042.34,308.2 1044.70,307.0 1047.06,305.9 1049.42,304.8 1051.79,303.6 1054.16,302.5 1056.53,301.4 1058.90,300.3 1061.28,299.2 1063.66,298.1 1066.04,297.1 1068.42,296.0 1070.81,294.9 1073.20,293.9 1075.59,292.8 1077.98,291.8 1080.37,290.7 1082.77,289.7 1085.17,288.7 1087.57,287.6 1089.97,286.6 1090.00,286.6"/>
<path stroke="#77AC30" d="M691.44,734.8 692.47,732.1 693.50,729.3 694.55,726.6 695.60,723.8 696.66,721.1 697.73,718.4 698.81,715.7 699.89,713.0 700.98,710.2 702.08,707.5 703.18,704.8 704.29,702.1 705.41,699.4 706.54,696.7 707.67,694.0 708.81,691.4 709.96,688.7 711.12,686.0 712.28,683.3 713.45,680.7 714.63,678.0 715.81,675.4 717.00,672.7 718.20,670.1 719.41,667.4 720.62,664.8 721.84,662.1 723.06,659.5 724.30,656.9 725.54,654.3 726.79,651.6 728.04,649.0 729.30,646.4 730.57,643.8 731.85,641.2 733.13,638.6 734.42,636.0 735.71,633.4 737.02,630.9 738.33,628.3 739.65,625.7 740.97,623.2 742.30,620.6 743.64,618.1 744.99,615.5 746.34,613.0 747.70,610.4 749.07,607.9 750.45,605.4 751.83,602.8 753.22,600.3 754.61,597.8 756.02,595.3 757.43,592.8 758.85,590.3 760.27,587.8 761.70,585.3 763.14,582.9 764.59,580.4 766.05,577.9 767.51,575.5 768.98,573.0 770.46,570.6 771.94,568.1 773.43,565.7 774.93,563.3 776.44,560.9 777.96,558.4 779.48,556.0 781.01,553.6 782.55,551.2 784.09,548.8 785.65,546.5 787.21,544.1 788.78,541.7 790.35,539.4 791.94,537.0 793.53,534.7 795.13,532.3 796.74,530.0 798.35,527.7 799.98,525.4 801.61,523.1 803.25,520.8 804.89,518.5 806.55,516.2 808.21,513.9 809.88,511.6 811.56,509.4 813.25,507.1 814.94,504.9 816.64,502.6 818.35,500.4 820.07,498.2 821.80,496.0 823.53,493.8 825.27,491.6 827.02,489.4 828.78,487.2 830.55,485.1 832.32,482.9 834.10,480.8 835.89,478.6 837.69,476.5 839.49,474.4 841.30,472.2 843.13,470.1 844.95,468.1 846.79,466.0 848.63,463.9 850.49,461.8 852.35,459.8 854.21,457.7 856.09,455.7 857.97,453.7 859.86,451.6 861.76,449.6 863.66,447.6 865.58,445.6 867.50,443.7 869.42,441.7 871.36,439.7 873.30,437.8 875.25,435.9 877.21,433.9 879.17,432.0 881.14,430.1 883.12,428.2 885.11,426.3 887.10,424.4 889.10,422.6 891.11,420.7 893.12,418.9 895.14,417.0 897.17,415.2 899.20,413.4 901.24,411.6 903.29,409.8 905.34,408.0 907.40,406.3 909.47,404.5 911.54,402.7 913.62,401.0 915.70,399.3 917.80,397.5 919.89,395.8 922.00,394.1 924.11,392.4 926.22,390.8 928.34,389.1 930.47,387.4 932.61,385.8 934.74,384.1 936.89,382.5 939.04,380.9 941.19,379.3 943.36,377.7 945.52,376.1 947.69,374.5 949.87,373.0 952.05,371.4 954.24,369.8 956.43,368.3 958.63,366.8 960.83,365.3 963.04,363.8 965.25,362.3 967.47,360.8 969.69,359.3 971.92,357.8 974.15,356.4 976.39,354.9 978.63,353.5 980.87,352.0 983.12,350.6 985.37,349.2 987.63,347.8 989.89,346.4 992.15,345.0 994.42,343.7 996.70,342.3 998.97,340.9 1001.26,339.6 1003.54,338.3 1005.83,336.9 1008.12,335.6 1010.42,334.3 1012.72,333.0 1015.02,331.7 1017.33,330.4 1019.64,329.1 1021.95,327.9 1024.27,326.6 1026.59,325.4 1028.91,324.1 1031.24,322.9 1033.57,321.6 1035.90,320.4 1038.24,319.2 1040.58,318.0 1042.92,316.8 1045.26,315.6 1047.61,314.5 1049.96,313.3 1052.31,312.1 1054.67,311.0 1057.03,309.8 1059.39,308.7 1061.75,307.6 1064.12,306.4 1066.49,305.3 1068.86,304.2 1071.24,303.1 1073.61,302.0 1075.99,300.9 1078.37,299.9 1080.76,298.8 1083.14,297.7 1085.53,296.7 1087.92,295.6 1090.00,294.7"/>
<path stroke="#4DBEEE" d="M701.88,734.8 702.92,732.1 703.98,729.3 705.04,726.6 706.11,723.9 707.19,721.2 708.28,718.4 709.37,715.7 710.47,713.0 711.58,710.3 712.69,707.6 713.82,704.9 714.95,702.2 716.09,699.6 717.23,696.9 718.38,694.2 719.54,691.5 720.71,688.9 721.88,686.2 723.06,683.5 724.25,680.9 725.45,678.2 726.65,675.6 727.86,672.9 729.08,670.3 730.30,667.7 731.53,665.0 732.77,662.4 734.02,659.8 735.27,657.2 736.53,654.6 737.79,652.0 739.07,649.4 740.35,646.8 741.63,644.2 742.93,641.6 744.23,639.0 745.54,636.4 746.85,633.9 748.17,631.3 749.50,628.8 750.84,626.2 752.18,623.6 753.53,621.1 754.89,618.6 756.26,616.0 757.63,613.5 759.01,611.0 760.39,608.5 761.79,605.9 763.19,603.4 764.59,600.9 766.01,598.4 767.43,595.9 768.86,593.5 770.30,591.0 771.74,588.5 773.19,586.0 774.65,583.6 776.12,581.1 777.59,578.7 779.07,576.2 780.56,573.8 782.05,571.4 783.55,568.9 785.06,566.5 786.58,564.1 788.11,561.7 789.64,559.3 791.18,556.9 792.73,554.5 794.28,552.1 795.85,549.8 797.42,547.4 798.99,545.0 800.58,542.7 802.17,540.3 803.77,538.0 805.38,535.7 807.00,533.4 808.62,531.0 810.25,528.7 811.89,526.4 813.54,524.1 815.20,521.9 816.86,519.6 818.53,517.3 820.21,515.1 821.89,512.8 823.59,510.6 825.29,508.3 827.00,506.1 828.72,503.9 830.44,501.7 832.17,499.5 833.91,497.3 835.66,495.1 837.42,492.9 839.18,490.7 840.95,488.6 842.73,486.4 844.52,484.3 846.32,482.2 848.12,480.0 849.93,477.9 851.75,475.8 853.57,473.7 855.41,471.6 857.25,469.5 859.10,467.5 860.95,465.4 862.82,463.4 864.69,461.3 866.57,459.3 868.46,457.3 870.35,455.3 872.25,453.3 874.16,451.3 876.08,449.3 878.00,447.3 879.93,445.3 881.87,443.4 883.81,441.4 885.77,439.5 887.73,437.6 889.69,435.7 891.67,433.8 893.65,431.9 895.64,430.0 897.63,428.1 899.63,426.3 901.64,424.4 903.66,422.6 905.68,420.7 907.71,418.9 909.74,417.1 911.78,415.3 913.83,413.5 915.89,411.7 917.95,410.0 920.02,408.2 922.09,406.4 924.17,404.7 926.26,403.0 928.35,401.3 930.45,399.5 932.55,397.8 934.66,396.2 936.78,394.5 938.90,392.8 941.03,391.1 943.16,389.5 945.30,387.9 947.45,386.2 949.60,384.6 951.75,383.0 953.91,381.4 956.08,379.8 958.25,378.2 960.43,376.7 962.61,375.1 964.80,373.6 966.99,372.0 969.19,370.5 971.39,369.0 973.60,367.5 975.81,366.0 978.03,364.5 980.25,363.0 982.47,361.5 984.70,360.1 986.94,358.6 989.18,357.2 991.42,355.8 993.67,354.3 995.92,352.9 998.17,351.5 1000.43,350.1 1002.70,348.7 1004.97,347.4 1007.24,346.0 1009.52,344.6 1011.80,343.3 1014.08,341.9 1016.37,340.6 1018.66,339.3 1020.95,338.0 1023.25,336.7 1025.55,335.4 1027.86,334.1 1030.17,332.8 1032.48,331.5 1034.80,330.3 1037.12,329.0 1039.44,327.8 1041.76,326.5 1044.09,325.3 1046.42,324.1 1048.76,322.9 1051.09,321.7 1053.44,320.5 1055.78,319.3 1058.12,318.1 1060.47,316.9 1062.83,315.8 1065.18,314.6 1067.54,313.4 1069.90,312.3 1072.26,311.2 1074.63,310.0 1076.99,308.9 1079.36,307.8 1081.74,306.7 1084.11,305.6 1086.49,304.5 1088.87,303.4 1090.00,302.9"/>
<path stroke="#A2142F" d="M712.00,735.6 713.07,732.9 714.14,730.1 715.21,727.4 716.30,724.7 717.39,722.0 718.50,719.3 719.60,716.6 720.72,713.9 721.84,711.2 722.98,708.5 724.12,705.8 725.26,703.1 726.42,700.5 727.58,697.8 728.75,695.1 729.92,692.5 731.10,689.8 732.29,687.2 733.49,684.5 734.70,681.9 735.91,679.2 737.13,676.6 738.35,674.0 739.59,671.3 740.83,668.7 742.07,666.1 743.33,663.5 744.59,660.9 745.86,658.3 747.13,655.7 748.41,653.1 749.70,650.5 751.00,647.9 752.30,645.3 753.61,642.7 754.93,640.2 756.26,637.6 757.59,635.1 758.93,632.5 760.27,630.0 761.62,627.4 762.98,624.9 764.35,622.3 765.72,619.8 767.10,617.3 768.49,614.8 769.89,612.3 771.29,609.8 772.70,607.3 774.11,604.8 775.54,602.3 776.97,599.8 778.41,597.3 779.85,594.8 781.30,592.4 782.76,589.9 784.23,587.4 785.70,585.0 787.19,582.6 788.67,580.1 790.17,577.7 791.67,575.3 793.18,572.8 794.70,570.4 796.23,568.0 797.76,565.6 799.30,563.2 800.85,560.9 802.40,558.5 803.96,556.1 805.53,553.7 807.11,551.4 808.69,549.0 810.29,546.7 811.89,544.3 813.49,542.0 815.11,539.7 816.73,537.4 818.36,535.1 820.00,532.8 821.64,530.5 823.30,528.2 824.96,525.9 826.63,523.6 828.30,521.4 829.99,519.1 831.68,516.9 833.38,514.6 835.08,512.4 836.80,510.2 838.52,508.0 840.25,505.8 841.99,503.6 843.73,501.4 845.48,499.2 847.24,497.0 849.01,494.8 850.79,492.7 852.57,490.5 854.36,488.4 856.16,486.3 857.96,484.2 859.78,482.0 861.60,479.9 863.43,477.9 865.26,475.8 867.11,473.7 868.96,471.6 870.82,469.6 872.68,467.5 874.56,465.5 876.44,463.5 878.33,461.4 880.22,459.4 882.13,457.4 884.04,455.4 885.96,453.5 887.88,451.5 889.81,449.5 891.75,447.6 893.70,445.6 895.65,443.7 897.61,441.8 899.58,439.9 901.55,438.0 903.54,436.1 905.52,434.2 907.52,432.3 909.52,430.5 911.53,428.6 913.54,426.8 915.57,424.9 917.60,423.1 919.63,421.3 921.67,419.5 923.72,417.7 925.77,415.9 927.83,414.1 929.90,412.4 931.97,410.6 934.05,408.9 936.14,407.2 938.23,405.4 940.33,403.7 942.43,402.0 944.54,400.3 946.66,398.7 948.78,397.0 950.90,395.3 953.04,393.7 955.17,392.0 957.32,390.4 959.47,388.8 961.62,387.2 963.78,385.6 965.94,384.0 968.11,382.4 970.29,380.8 972.47,379.3 974.66,377.7 976.85,376.2 979.04,374.6 981.24,373.1 983.45,371.6 985.66,370.1 987.87,368.6 990.09,367.1 992.31,365.6 994.54,364.2 996.77,362.7 999.01,361.3 1001.25,359.8 1003.50,358.4 1005.75,357.0 1008.00,355.6 1010.26,354.2 1012.52,352.8 1014.79,351.4 1017.06,350.0 1019.33,348.7 1021.61,347.3 1023.89,346.0 1026.18,344.6 1028.47,343.3 1030.76,342.0 1033.05,340.7 1035.35,339.4 1037.66,338.1 1039.96,336.8 1042.27,335.5 1044.59,334.3 1046.90,333.0 1049.22,331.8 1051.55,330.5 1053.87,329.3 1056.20,328.0 1058.53,326.8 1060.87,325.6 1063.21,324.4 1065.55,323.2 1067.89,322.0 1070.24,320.9 1072.59,319.7 1074.94,318.5 1077.30,317.4 1079.65,316.2 1082.02,315.1 1084.38,313.9 1086.74,312.8 1089.11,311.7 1090.00,311.3"/>
<path stroke="#0072BD" d="M722.36,735.8 723.43,733.1 724.52,730.4 725.62,727.7 726.72,725.0 727.83,722.2 728.95,719.6 730.08,716.9 731.21,714.2 732.35,711.5 733.50,708.8 734.66,706.1 735.82,703.5 736.99,700.8 738.17,698.1 739.35,695.5 740.55,692.8 741.75,690.2 742.96,687.5 744.17,684.9 745.39,682.3 746.62,679.6 747.86,677.0 749.10,674.4 750.35,671.8 751.61,669.2 752.87,666.6 754.15,664.0 755.42,661.4 756.71,658.8 758.00,656.2 759.30,653.6 760.61,651.0 761.92,648.5 763.24,645.9 764.57,643.3 765.91,640.8 767.25,638.2 768.60,635.7 769.95,633.1 771.32,630.6 772.69,628.1 774.06,625.5 775.45,623.0 776.84,620.5 778.24,618.0 779.64,615.5 781.05,613.0 782.47,610.5 783.90,608.0 785.33,605.5 786.77,603.1 788.22,600.6 789.68,598.1 791.14,595.7 792.61,593.2 794.08,590.8 795.57,588.3 797.06,585.9 798.56,583.5 800.06,581.0 801.57,578.6 803.09,576.2 804.62,573.8 806.15,571.4 807.70,569.0 809.24,566.6 810.80,564.3 812.36,561.9 813.93,559.5 815.51,557.2 817.10,554.8 818.69,552.5 820.29,550.1 821.90,547.8 823.52,545.5 825.14,543.2 826.77,540.9 828.41,538.6 830.05,536.3 831.70,534.0 833.36,531.7 835.03,529.4 836.71,527.2 838.39,524.9 840.08,522.7 841.78,520.4 843.48,518.2 845.20,516.0 846.92,513.7 848.64,511.5 850.38,509.3 852.12,507.1 853.87,505.0 855.63,502.8 857.40,500.6 859.17,498.5 860.95,496.3 862.74,494.2 864.54,492.0 866.34,489.9 868.15,487.8 869.97,485.7 871.79,483.6 873.63,481.5 875.47,479.4 877.32,477.4 879.17,475.3 881.03,473.2 882.90,471.2 884.78,469.2 886.67,467.1 888.56,465.1 890.46,463.1 892.36,461.1 894.28,459.1 896.20,457.2 898.13,455.2 900.06,453.2 902.00,451.3 903.95,449.4 905.91,447.4 907.87,445.5 909.84,443.6 911.82,441.7 913.80,439.8 915.79,437.9 917.79,436.1 919.79,434.2 921.80,432.4 923.82,430.5 925.84,428.7 927.87,426.9 929.91,425.1 931.95,423.3 934.00,421.5 936.05,419.7 938.11,417.9 940.18,416.2 942.26,414.4 944.34,412.7 946.42,410.9 948.51,409.2 950.61,407.5 952.71,405.8 954.82,404.1 956.94,402.4 959.06,400.8 961.19,399.1 963.32,397.4 965.46,395.8 967.60,394.2 969.75,392.6 971.90,390.9 974.06,389.3 976.23,387.8 978.39,386.2 980.57,384.6 982.75,383.0 984.93,381.5 987.12,379.9 989.32,378.4 991.52,376.9 993.72,375.4 995.93,373.9 998.14,372.4 1000.36,370.9 1002.58,369.4 1004.81,367.9 1007.04,366.5 1009.28,365.0 1011.52,363.6 1013.76,362.2 1016.01,360.7 1018.26,359.3 1020.52,357.9 1022.78,356.5 1025.05,355.2 1027.32,353.8 1029.59,352.4 1031.86,351.1 1034.14,349.7 1036.43,348.4 1038.72,347.0 1041.01,345.7 1043.30,344.4 1045.60,343.1 1047.90,341.8 1050.21,340.5 1052.52,339.2 1054.83,338.0 1057.14,336.7 1059.46,335.4 1061.78,334.2 1064.11,333.0 1066.43,331.7 1068.77,330.5 1071.10,329.3 1073.44,328.1 1075.78,326.9 1078.12,325.7 1080.46,324.5 1082.81,323.3 1085.16,322.2 1087.52,321.0 1089.87,319.8 1090.00,319.8"/>
<path stroke="#D95319" d="M732.79,735.8 733.88,733.1 734.99,730.4 736.10,727.7 737.22,725.0 738.35,722.3 739.48,719.6 740.63,716.9 741.78,714.3 742.94,711.6 744.10,708.9 745.28,706.2 746.46,703.6 747.65,700.9 748.84,698.3 750.05,695.6 751.26,693.0 752.47,690.4 753.70,687.7 754.93,685.1 756.17,682.5 757.42,679.9 758.67,677.2 759.93,674.6 761.20,672.0 762.48,669.4 763.76,666.8 765.05,664.3 766.35,661.7 767.65,659.1 768.96,656.5 770.28,653.9 771.60,651.4 772.93,648.8 774.27,646.3 775.62,643.7 776.97,641.2 778.33,638.6 779.70,636.1 781.07,633.6 782.45,631.1 783.84,628.5 785.23,626.0 786.64,623.5 788.04,621.0 789.46,618.5 790.88,616.0 792.31,613.5 793.75,611.1 795.19,608.6 796.64,606.1 798.10,603.7 799.57,601.2 801.04,598.8 802.52,596.3 804.00,593.9 805.50,591.4 807.00,589.0 808.50,586.6 810.02,584.2 811.54,581.8 813.07,579.4 814.61,577.0 816.15,574.6 817.70,572.2 819.26,569.8 820.82,567.5 822.40,565.1 823.97,562.7 825.56,560.4 827.16,558.0 828.76,555.7 830.37,553.4 831.98,551.1 833.61,548.7 835.24,546.4 836.88,544.1 838.52,541.8 840.17,539.6 841.83,537.3 843.50,535.0 845.18,532.7 846.86,530.5 848.55,528.2 850.25,526.0 851.95,523.8 853.67,521.5 855.39,519.3 857.11,517.1 858.85,514.9 860.59,512.7 862.34,510.5 864.10,508.4 865.86,506.2 867.63,504.0 869.41,501.9 871.20,499.7 872.99,497.6 874.79,495.5 876.60,493.4 878.42,491.3 880.24,489.2 882.07,487.1 883.91,485.0 885.75,482.9 887.61,480.8 889.47,478.8 891.33,476.7 893.21,474.7 895.09,472.7 896.98,470.7 898.87,468.7 900.78,466.7 902.69,464.7 904.60,462.7 906.53,460.7 908.46,458.7 910.40,456.8 912.34,454.9 914.29,452.9 916.25,451.0 918.22,449.1 920.19,447.2 922.17,445.3 924.15,443.4 926.15,441.5 928.15,439.7 930.15,437.8 932.16,435.9 934.18,434.1 936.21,432.3 938.24,430.5 940.28,428.7 942.32,426.9 944.37,425.1 946.43,423.3 948.49,421.5 950.56,419.8 952.63,418.0 954.71,416.3 956.80,414.6 958.89,412.8 960.99,411.1 963.10,409.4 965.21,407.7 967.32,406.1 969.44,404.4 971.57,402.7 973.70,401.1 975.84,399.4 977.98,397.8 980.13,396.2 982.29,394.6 984.45,393.0 986.61,391.4 988.78,389.8 990.95,388.2 993.13,386.7 995.32,385.1 997.51,383.6 999.70,382.0 1001.90,380.5 1004.10,379.0 1006.31,377.5 1008.52,376.0 1010.74,374.5 1012.96,373.0 1015.19,371.6 1017.42,370.1 1019.66,368.7 1021.90,367.2 1024.14,365.8 1026.39,364.4 1028.64,362.9 1030.89,361.5 1033.15,360.1 1035.42,358.8 1037.69,357.4 1039.96,356.0 1042.23,354.7 1044.51,353.3 1046.79,352.0 1049.08,350.6 1051.37,349.3 1053.66,348.0 1055.96,346.7 1058.26,345.4 1060.57,344.1 1062.87,342.8 1065.18,341.5 1067.50,340.3 1069.81,339.0 1072.13,337.8 1074.46,336.5 1076.78,335.3 1079.11,334.1 1081.45,332.8 1083.78,331.6 1086.12,330.4 1088.46,329.2 1090.00,328.4"/>
<path stroke="#EDB120" d="M743.11,736.0 744.23,733.3 745.35,730.7 746.48,728.0 747.61,725.3 748.76,722.6 749.91,719.9 751.07,717.2 752.24,714.6 753.41,711.9 754.60,709.3 755.79,706.6 756.98,704.0 758.19,701.3 759.40,698.7 760.62,696.0 761.85,693.4 763.08,690.8 764.33,688.2 765.58,685.5 766.83,682.9 768.10,680.3 769.37,677.7 770.64,675.1 771.93,672.5 773.22,669.9 774.52,667.4 775.83,664.8 777.14,662.2 778.46,659.6 779.79,657.1 781.12,654.5 782.46,652.0 783.81,649.4 785.17,646.9 786.53,644.4 787.90,641.8 789.28,639.3 790.66,636.8 792.05,634.3 793.45,631.7 794.85,629.2 796.26,626.7 797.68,624.2 799.10,621.8 800.54,619.3 801.98,616.8 803.42,614.3 804.87,611.9 806.33,609.4 807.80,606.9 809.28,604.5 810.76,602.1 812.24,599.6 813.74,597.2 815.24,594.8 816.75,592.3 818.27,589.9 819.79,587.5 821.32,585.1 822.86,582.7 824.40,580.3 825.96,578.0 827.52,575.6 829.08,573.2 830.65,570.9 832.23,568.5 833.82,566.2 835.42,563.8 837.02,561.5 838.63,559.1 840.25,556.8 841.87,554.5 843.50,552.2 845.14,549.9 846.78,547.6 848.44,545.3 850.10,543.0 851.76,540.8 853.44,538.5 855.12,536.3 856.81,534.0 858.51,531.8 860.21,529.5 861.92,527.3 863.64,525.1 865.36,522.9 867.10,520.7 868.84,518.5 870.59,516.3 872.34,514.1 874.10,511.9 875.87,509.8 877.65,507.6 879.43,505.5 881.23,503.3 883.02,501.2 884.83,499.1 886.64,497.0 888.46,494.9 890.29,492.8 892.13,490.7 893.97,488.6 895.82,486.6 897.67,484.5 899.54,482.4 901.41,480.4 903.29,478.4 905.17,476.4 907.06,474.3 908.96,472.3 910.87,470.3 912.78,468.4 914.70,466.4 916.63,464.4 918.56,462.4 920.50,460.5 922.45,458.6 924.40,456.6 926.36,454.7 928.33,452.8 930.30,450.9 932.29,449.0 934.27,447.1 936.27,445.2 938.27,443.4 940.27,441.5 942.29,439.7 944.31,437.8 946.33,436.0 948.37,434.2 950.41,432.4 952.45,430.6 954.50,428.8 956.56,427.0 958.62,425.3 960.69,423.5 962.77,421.8 964.85,420.0 966.93,418.3 969.03,416.6 971.13,414.9 973.23,413.2 975.34,411.5 977.46,409.8 979.58,408.1 981.70,406.5 983.84,404.8 985.97,403.2 988.12,401.6 990.27,399.9 992.42,398.3 994.58,396.7 996.74,395.1 998.91,393.5 1001.08,392.0 1003.26,390.4 1005.45,388.9 1007.63,387.3 1009.83,385.8 1012.03,384.2 1014.23,382.7 1016.44,381.2 1018.65,379.7 1020.86,378.2 1023.08,376.8 1025.31,375.3 1027.54,373.8 1029.77,372.4 1032.01,370.9 1034.25,369.5 1036.50,368.1 1038.75,366.7 1041.01,365.3 1043.26,363.9 1045.53,362.5 1047.79,361.1 1050.06,359.7 1052.34,358.3 1054.61,357.0 1056.90,355.6 1059.18,354.3 1061.47,353.0 1063.76,351.7 1066.06,350.4 1068.36,349.0 1070.66,347.8 1072.96,346.5 1075.27,345.2 1077.59,343.9 1079.90,342.7 1082.22,341.4 1084.54,340.2 1086.87,338.9 1089.19,337.7 1090.00,337.3"/>
<path stroke="#7E2F8E" d="M753.27,736.7 754.40,734.0 755.53,731.3 756.68,728.6 757.83,726.0 758.99,723.3 760.16,720.6 761.33,718.0 762.51,715.3 763.70,712.6 764.90,710.0 766.11,707.4 767.32,704.7 768.54,702.1 769.77,699.4 771.01,696.8 772.25,694.2 773.50,691.6 774.76,689.0 776.02,686.4 777.29,683.8 778.57,681.2 779.86,678.6 781.15,676.0 782.45,673.4 783.76,670.8 785.07,668.3 786.40,665.7 787.73,663.1 789.06,660.6 790.40,658.0 791.75,655.5 793.11,652.9 794.47,650.4 795.85,647.9 797.22,645.4 798.61,642.8 800.00,640.3 801.40,637.8 802.80,635.3 804.22,632.8 805.64,630.3 807.06,627.8 808.50,625.3 809.94,622.9 811.38,620.4 812.84,617.9 814.30,615.5 815.77,613.0 817.24,610.6 818.72,608.1 820.21,605.7 821.71,603.3 823.21,600.8 824.72,598.4 826.24,596.0 827.76,593.6 829.29,591.2 830.83,588.8 832.37,586.4 833.93,584.0 835.49,581.7 837.05,579.3 838.62,576.9 840.20,574.6 841.79,572.2 843.39,569.9 844.99,567.6 846.60,565.2 848.21,562.9 849.84,560.6 851.47,558.3 853.10,556.0 854.75,553.7 856.40,551.4 858.06,549.1 859.72,546.8 861.40,544.6 863.08,542.3 864.76,540.1 866.46,537.8 868.16,535.6 869.87,533.4 871.58,531.1 873.31,528.9 875.04,526.7 876.78,524.5 878.52,522.3 880.27,520.2 882.03,518.0 883.80,515.8 885.57,513.7 887.35,511.5 889.14,509.4 890.94,507.2 892.74,505.1 894.55,503.0 896.36,500.9 898.19,498.8 900.02,496.7 901.86,494.6 903.70,492.5 905.55,490.5 907.41,488.4 909.28,486.4 911.15,484.3 913.03,482.3 914.92,480.3 916.81,478.3 918.71,476.3 920.62,474.3 922.54,472.3 924.46,470.3 926.39,468.4 928.32,466.4 930.26,464.5 932.21,462.5 934.17,460.6 936.13,458.7 938.10,456.8 940.07,454.9 942.05,453.0 944.04,451.1 946.04,449.2 948.04,447.4 950.05,445.5 952.06,443.7 954.08,441.8 956.11,440.0 958.14,438.2 960.18,436.4 962.22,434.6 964.27,432.8 966.33,431.0 968.39,429.2 970.46,427.5 972.54,425.7 974.62,424.0 976.71,422.3 978.80,420.6 980.90,418.8 983.00,417.1 985.11,415.5 987.22,413.8 989.34,412.1 991.47,410.4 993.60,408.8 995.74,407.2 997.88,405.5 1000.03,403.9 1002.18,402.3 1004.34,400.7 1006.50,399.1 1008.67,397.5 1010.84,395.9 1013.01,394.4 1015.20,392.8 1017.38,391.3 1019.58,389.7 1021.77,388.2 1023.97,386.7 1026.18,385.2 1028.39,383.7 1030.60,382.2 1032.82,380.7 1035.05,379.2 1037.27,377.7 1039.51,376.3 1041.74,374.8 1043.98,373.4 1046.23,372.0 1048.48,370.6 1050.73,369.1 1052.99,367.7 1055.25,366.3 1057.51,365.0 1059.78,363.6 1062.05,362.2 1064.33,360.9 1066.61,359.5 1068.89,358.2 1071.18,356.8 1073.47,355.5 1075.76,354.2 1078.06,352.9 1080.36,351.6 1082.66,350.3 1084.97,349.0 1087.28,347.7 1089.59,346.5 1090.00,346.2"/>
<path stroke="#77AC30" d="M763.57,737.0 764.71,734.3 765.86,731.6 767.02,729.0 768.19,726.3 769.36,723.6 770.55,721.0 771.74,718.3 772.94,715.7 774.14,713.0 775.36,710.4 776.58,707.8 777.81,705.1 779.05,702.5 780.29,699.9 781.54,697.3 782.80,694.7 784.07,692.1 785.34,689.5 786.62,686.9 787.91,684.3 789.20,681.7 790.51,679.1 791.82,676.5 793.13,674.0 794.46,671.4 795.79,668.8 797.12,666.3 798.47,663.7 799.82,661.2 801.18,658.7 802.55,656.1 803.92,653.6 805.30,651.1 806.69,648.5 808.08,646.0 809.48,643.5 810.89,641.0 812.30,638.5 813.72,636.0 815.15,633.6 816.59,631.1 818.03,628.6 819.48,626.1 820.94,623.7 822.40,621.2 823.87,618.8 825.34,616.3 826.83,613.9 828.32,611.4 829.82,609.0 831.32,606.6 832.83,604.2 834.35,601.8 835.87,599.3 837.41,596.9 838.95,594.6 840.49,592.2 842.04,589.8 843.60,587.4 845.17,585.0 846.75,582.7 848.33,580.3 849.91,578.0 851.51,575.6 853.11,573.3 854.72,571.0 856.34,568.7 857.96,566.3 859.59,564.0 861.23,561.7 862.87,559.4 864.52,557.1 866.18,554.9 867.84,552.6 869.52,550.3 871.20,548.1 872.88,545.8 874.58,543.6 876.28,541.3 877.98,539.1 879.70,536.9 881.42,534.7 883.15,532.5 884.89,530.3 886.63,528.1 888.38,525.9 890.14,523.7 891.90,521.5 893.67,519.4 895.45,517.2 897.24,515.1 899.03,513.0 900.83,510.8 902.64,508.7 904.45,506.6 906.27,504.5 908.10,502.4 909.93,500.3 911.77,498.2 913.62,496.2 915.48,494.1 917.34,492.1 919.21,490.0 921.09,488.0 922.97,486.0 924.86,483.9 926.76,481.9 928.66,479.9 930.57,478.0 932.49,476.0 934.41,474.0 936.34,472.0 938.28,470.1 940.23,468.1 942.18,466.2 944.13,464.3 946.10,462.4 948.07,460.5 950.05,458.6 952.03,456.7 954.02,454.8 956.01,452.9 958.02,451.1 960.03,449.2 962.04,447.4 964.06,445.5 966.09,443.7 968.12,441.9 970.16,440.1 972.21,438.3 974.26,436.5 976.32,434.7 978.38,433.0 980.45,431.2 982.53,429.5 984.61,427.7 986.69,426.0 988.79,424.3 990.88,422.6 992.99,420.9 995.10,419.2 997.21,417.5 999.33,415.8 1001.46,414.2 1003.59,412.5 1005.73,410.9 1007.87,409.2 1010.01,407.6 1012.16,406.0 1014.32,404.4 1016.48,402.8 1018.65,401.2 1020.82,399.6 1023.00,398.1 1025.18,396.5 1027.37,395.0 1029.56,393.4 1031.75,391.9 1033.95,390.4 1036.16,388.9 1038.37,387.4 1040.58,385.9 1042.80,384.4 1045.02,382.9 1047.25,381.4 1049.48,380.0 1051.71,378.5 1053.95,377.1 1056.20,375.7 1058.44,374.2 1060.69,372.8 1062.95,371.4 1065.21,370.0 1067.47,368.6 1069.74,367.3 1072.01,365.9 1074.28,364.5 1076.56,363.2 1078.84,361.8 1081.13,360.5 1083.42,359.2 1085.71,357.8 1088.00,356.5 1090.00,355.4"/>
<path stroke="#4DBEEE" d="M773.99,737.0 775.15,734.3 776.31,731.7 777.49,729.0 778.68,726.3 779.87,723.7 781.07,721.0 782.27,718.4 783.49,715.8 784.71,713.1 785.94,710.5 787.18,707.9 788.43,705.3 789.68,702.6 790.94,700.0 792.21,697.4 793.49,694.8 794.77,692.2 796.06,689.6 797.36,687.1 798.66,684.5 799.97,681.9 801.29,679.3 802.62,676.8 803.95,674.2 805.29,671.7 806.64,669.1 807.99,666.6 809.36,664.0 810.72,661.5 812.10,659.0 813.48,656.5 814.87,653.9 816.27,651.4 817.67,648.9 819.08,646.4 820.50,643.9 821.92,641.4 823.35,639.0 824.79,636.5 826.24,634.0 827.69,631.5 829.15,629.1 830.61,626.6 832.08,624.2 833.56,621.7 835.05,619.3 836.54,616.9 838.04,614.4 839.55,612.0 841.06,609.6 842.58,607.2 844.11,604.8 845.64,602.4 847.18,600.0 848.73,597.6 850.29,595.2 851.85,592.9 853.42,590.5 854.99,588.1 856.57,585.8 858.16,583.4 859.76,581.1 861.36,578.8 862.97,576.4 864.59,574.1 866.21,571.8 867.84,569.5 869.48,567.2 871.12,564.9 872.78,562.6 874.43,560.3 876.10,558.1 877.77,555.8 879.45,553.5 881.14,551.3 882.83,549.0 884.53,546.8 886.24,544.6 887.95,542.3 889.68,540.1 891.40,537.9 893.14,535.7 894.88,533.5 896.63,531.4 898.39,529.2 900.15,527.0 901.92,524.8 903.70,522.7 905.48,520.5 907.27,518.4 909.07,516.3 910.88,514.2 912.69,512.0 914.51,509.9 916.33,507.8 918.16,505.8 920.00,503.7 921.85,501.6 923.70,499.5 925.56,497.5 927.43,495.4 929.30,493.4 931.18,491.4 933.07,489.4 934.97,487.3 936.87,485.3 938.77,483.4 940.69,481.4 942.61,479.4 944.54,477.4 946.47,475.5 948.41,473.5 950.36,471.6 952.31,469.6 954.27,467.7 956.24,465.8 958.21,463.9 960.19,462.0 962.18,460.1 964.17,458.3 966.17,456.4 968.17,454.5 970.18,452.7 972.20,450.8 974.22,449.0 976.25,447.2 978.29,445.4 980.33,443.6 982.37,441.8 984.43,440.0 986.49,438.2 988.55,436.5 990.62,434.7 992.70,433.0 994.78,431.2 996.87,429.5 998.96,427.8 1001.06,426.1 1003.16,424.4 1005.27,422.7 1007.39,421.0 1009.51,419.3 1011.64,417.7 1013.77,416.0 1015.90,414.4 1018.04,412.8 1020.19,411.1 1022.34,409.5 1024.50,407.9 1026.66,406.3 1028.83,404.7 1031.00,403.2 1033.18,401.6 1035.36,400.0 1037.54,398.5 1039.73,396.9 1041.93,395.4 1044.13,393.9 1046.33,392.4 1048.54,390.9 1050.75,389.4 1052.97,387.9 1055.19,386.4 1057.42,384.9 1059.65,383.5 1061.88,382.0 1064.12,380.6 1066.36,379.2 1068.61,377.7 1070.86,376.3 1073.12,374.9 1075.37,373.5 1077.64,372.1 1079.90,370.7 1082.17,369.4 1084.45,368.0 1086.72,366.7 1089.00,365.3 1090.00,364.7"/>
<path stroke="#A2142F" d="M783.97,738.0 785.14,735.3 786.32,732.7 787.51,730.0 788.71,727.4 789.92,724.7 791.13,722.1 792.35,719.5 793.58,716.8 794.82,714.2 796.06,711.6 797.31,709.0 798.57,706.4 799.84,703.8 801.11,701.2 802.39,698.6 803.68,696.0 804.98,693.4 806.28,690.8 807.60,688.2 808.91,685.7 810.24,683.1 811.57,680.5 812.91,678.0 814.26,675.4 815.61,672.9 816.98,670.4 818.34,667.8 819.72,665.3 821.10,662.8 822.49,660.3 823.89,657.8 825.29,655.2 826.70,652.7 828.12,650.3 829.54,647.8 830.97,645.3 832.41,642.8 833.85,640.3 835.30,637.9 836.76,635.4 838.23,632.9 839.70,630.5 841.18,628.0 842.66,625.6 844.16,623.2 845.65,620.7 847.16,618.3 848.67,615.9 850.19,613.5 851.72,611.1 853.25,608.7 854.79,606.3 856.34,603.9 857.89,601.5 859.45,599.2 861.02,596.8 862.60,594.4 864.18,592.1 865.76,589.7 867.36,587.4 868.96,585.1 870.57,582.7 872.18,580.4 873.81,578.1 875.43,575.8 877.07,573.5 878.71,571.2 880.36,568.9 882.02,566.6 883.68,564.3 885.35,562.1 887.03,559.8 888.71,557.6 890.40,555.3 892.10,553.1 893.81,550.8 895.52,548.6 897.24,546.4 898.96,544.2 900.69,542.0 902.43,539.8 904.18,537.6 905.93,535.4 907.69,533.2 909.46,531.1 911.23,528.9 913.01,526.8 914.80,524.6 916.59,522.5 918.39,520.4 920.20,518.3 922.01,516.1 923.83,514.0 925.66,511.9 927.50,509.9 929.34,507.8 931.19,505.7 933.04,503.7 934.90,501.6 936.77,499.6 938.65,497.5 940.53,495.5 942.42,493.5 944.31,491.5 946.21,489.5 948.12,487.5 950.04,485.5 951.96,483.5 953.89,481.6 955.82,479.6 957.76,477.7 959.71,475.7 961.67,473.8 963.63,471.9 965.59,469.9 967.57,468.0 969.55,466.2 971.53,464.3 973.52,462.4 975.52,460.5 977.53,458.7 979.54,456.8 981.55,455.0 983.57,453.1 985.60,451.3 987.64,449.5 989.68,447.7 991.72,445.9 993.78,444.1 995.83,442.4 997.90,440.6 999.97,438.8 1002.04,437.1 1004.12,435.4 1006.21,433.6 1008.30,431.9 1010.40,430.2 1012.50,428.5 1014.61,426.8 1016.72,425.1 1018.84,423.5 1020.97,421.8 1023.10,420.1 1025.23,418.5 1027.37,416.9 1029.52,415.2 1031.67,413.6 1033.82,412.0 1035.98,410.4 1038.15,408.8 1040.32,407.2 1042.49,405.7 1044.67,404.1 1046.85,402.5 1049.04,401.0 1051.24,399.5 1053.43,397.9 1055.63,396.4 1057.84,394.9 1060.05,393.4 1062.27,391.9 1064.49,390.4 1066.71,389.0 1068.94,387.5 1071.17,386.1 1073.41,384.6 1075.65,383.2 1077.89,381.7 1080.14,380.3 1082.39,378.9 1084.65,377.5 1086.91,376.1 1089.17,374.7 1090.00,374.2"/>
<path stroke="#0072BD" d="M794.38,738.0 795.57,735.3 796.77,732.7 797.97,730.1 799.19,727.4 800.41,724.8 801.64,722.1 802.88,719.5 804.12,716.9 805.37,714.3 806.63,711.7 807.90,709.1 809.18,706.5 810.46,703.9 811.75,701.3 813.05,698.7 814.36,696.1 815.67,693.6 816.99,691.0 818.32,688.4 819.65,685.9 820.99,683.3 822.34,680.8 823.70,678.2 825.06,675.7 826.43,673.2 827.81,670.6 829.19,668.1 830.58,665.6 831.98,663.1 833.39,660.6 834.80,658.1 836.22,655.6 837.65,653.1 839.08,650.6 840.52,648.2 841.96,645.7 843.42,643.2 844.88,640.8 846.35,638.3 847.82,635.9 849.30,633.4 850.79,631.0 852.28,628.5 853.78,626.1 855.29,623.7 856.81,621.3 858.33,618.9 859.85,616.5 861.39,614.1 862.93,611.7 864.48,609.3 866.04,606.9 867.60,604.6 869.17,602.2 870.74,599.8 872.32,597.5 873.91,595.1 875.51,592.8 877.11,590.5 878.72,588.1 880.34,585.8 881.96,583.5 883.59,581.2 885.23,578.9 886.87,576.6 888.52,574.3 890.18,572.0 891.84,569.7 893.51,567.5 895.19,565.2 896.87,563.0 898.56,560.7 900.26,558.5 901.96,556.2 903.67,554.0 905.39,551.8 907.12,549.6 908.85,547.4 910.59,545.2 912.33,543.0 914.08,540.8 915.84,538.6 917.61,536.5 919.38,534.3 921.16,532.2 922.94,530.0 924.74,527.9 926.53,525.8 928.34,523.6 930.15,521.5 931.97,519.4 933.80,517.3 935.63,515.2 937.47,513.2 939.32,511.1 941.17,509.0 943.03,507.0 944.89,504.9 946.77,502.9 948.65,500.9 950.53,498.8 952.42,496.8 954.32,494.8 956.23,492.8 958.14,490.8 960.06,488.9 961.98,486.9 963.92,484.9 965.85,483.0 967.80,481.0 969.75,479.1 971.71,477.2 973.67,475.3 975.64,473.3 977.61,471.4 979.59,469.6 981.58,467.7 983.58,465.8 985.58,463.9 987.58,462.1 989.60,460.2 991.61,458.4 993.64,456.6 995.67,454.8 997.70,452.9 999.75,451.1 1001.79,449.4 1003.85,447.6 1005.91,445.8 1007.97,444.0 1010.04,442.3 1012.12,440.5 1014.20,438.8 1016.29,437.1 1018.38,435.4 1020.48,433.7 1022.58,432.0 1024.69,430.3 1026.81,428.6 1028.93,426.9 1031.05,425.2 1033.18,423.6 1035.32,421.9 1037.46,420.3 1039.60,418.7 1041.75,417.1 1043.91,415.5 1046.07,413.9 1048.23,412.3 1050.40,410.7 1052.57,409.1 1054.75,407.6 1056.94,406.0 1059.12,404.5 1061.32,402.9 1063.51,401.4 1065.72,399.9 1067.92,398.4 1070.13,396.9 1072.35,395.4 1074.57,393.9 1076.79,392.4 1079.02,391.0 1081.25,389.5 1083.48,388.1 1085.72,386.6 1087.97,385.2 1090.00,383.9"/>
<path stroke="#D95319" d="M805.16,737.2 806.37,734.6 807.58,731.9 808.81,729.3 810.04,726.7 811.28,724.0 812.53,721.4 813.78,718.8 815.04,716.2 816.32,713.6 817.59,711.0 818.88,708.4 820.18,705.8 821.48,703.2 822.79,700.7 824.10,698.1 825.43,695.5 826.76,693.0 828.09,690.4 829.44,687.9 830.79,685.3 832.15,682.8 833.52,680.3 834.89,677.7 836.28,675.2 837.66,672.7 839.06,670.2 840.46,667.7 841.87,665.2 843.29,662.7 844.71,660.2 846.14,657.7 847.58,655.2 849.02,652.7 850.47,650.3 851.93,647.8 853.39,645.4 854.86,642.9 856.34,640.5 857.83,638.0 859.32,635.6 860.82,633.2 862.32,630.7 863.83,628.3 865.35,625.9 866.88,623.5 868.41,621.1 869.95,618.7 871.49,616.3 873.04,613.9 874.60,611.6 876.17,609.2 877.74,606.8 879.32,604.5 880.90,602.1 882.50,599.8 884.10,597.5 885.70,595.1 887.31,592.8 888.93,590.5 890.56,588.2 892.19,585.9 893.83,583.6 895.48,581.3 897.13,579.0 898.79,576.7 900.45,574.4 902.13,572.2 903.80,569.9 905.49,567.7 907.18,565.4 908.88,563.2 910.59,560.9 912.30,558.7 914.02,556.5 915.75,554.3 917.48,552.1 919.22,549.9 920.97,547.7 922.72,545.5 924.48,543.4 926.25,541.2 928.02,539.0 929.80,536.9 931.58,534.7 933.38,532.6 935.18,530.5 936.98,528.4 938.80,526.3 940.62,524.1 942.44,522.1 944.27,520.0 946.11,517.9 947.96,515.8 949.81,513.8 951.67,511.7 953.54,509.6 955.41,507.6 957.29,505.6 959.17,503.6 961.07,501.5 962.96,499.5 964.87,497.5 966.78,495.6 968.70,493.6 970.62,491.6 972.55,489.6 974.49,487.7 976.43,485.7 978.38,483.8 980.33,481.9 982.29,480.0 984.26,478.0 986.24,476.1 988.22,474.2 990.20,472.4 992.19,470.5 994.19,468.6 996.20,466.8 998.21,464.9 1000.22,463.1 1002.24,461.2 1004.27,459.4 1006.31,457.6 1008.34,455.8 1010.39,454.0 1012.44,452.2 1014.50,450.5 1016.56,448.7 1018.63,446.9 1020.70,445.2 1022.78,443.4 1024.86,441.7 1026.95,440.0 1029.05,438.3 1031.15,436.6 1033.26,434.9 1035.37,433.2 1037.48,431.5 1039.60,429.8 1041.73,428.2 1043.86,426.5 1046.00,424.9 1048.14,423.3 1050.29,421.6 1052.44,420.0 1054.60,418.4 1056.76,416.8 1058.92,415.2 1061.10,413.7 1063.27,412.1 1065.45,410.5 1067.64,409.0 1069.82,407.4 1072.02,405.9 1074.22,404.4 1076.42,402.9 1078.63,401.4 1080.84,399.9 1083.05,398.4 1085.27,396.9 1087.50,395.4 1089.72,393.9 1090.00,393.8"/>
<path stroke="#EDB120" d="M815.35,737.7 816.57,735.1 817.80,732.4 819.04,729.8 820.28,727.2 821.54,724.6 822.80,722.0 824.07,719.4 825.35,716.8 826.63,714.2 827.93,711.6 829.23,709.0 830.53,706.4 831.85,703.9 833.17,701.3 834.50,698.7 835.84,696.2 837.19,693.6 838.54,691.1 839.90,688.6 841.27,686.0 842.64,683.5 844.02,681.0 845.41,678.5 846.81,675.9 848.21,673.4 849.62,670.9 851.04,668.4 852.46,666.0 853.89,663.5 855.33,661.0 856.77,658.5 858.22,656.0 859.68,653.6 861.14,651.1 862.62,648.7 864.09,646.2 865.58,643.8 867.07,641.4 868.57,638.9 870.08,636.5 871.59,634.1 873.11,631.7 874.63,629.3 876.16,626.9 877.70,624.5 879.25,622.1 880.80,619.7 882.36,617.3 883.92,615.0 885.50,612.6 887.07,610.3 888.66,607.9 890.25,605.6 891.85,603.2 893.46,600.9 895.07,598.6 896.69,596.3 898.31,593.9 899.94,591.6 901.58,589.3 903.23,587.0 904.88,584.8 906.54,582.5 908.20,580.2 909.87,577.9 911.55,575.7 913.24,573.4 914.93,571.2 916.63,568.9 918.33,566.7 920.04,564.5 921.76,562.3 923.49,560.1 925.22,557.8 926.95,555.7 928.70,553.5 930.45,551.3 932.21,549.1 933.97,546.9 935.74,544.8 937.52,542.6 939.30,540.5 941.09,538.3 942.89,536.2 944.69,534.1 946.50,532.0 948.32,529.9 950.14,527.8 951.97,525.7 953.81,523.6 955.65,521.5 957.50,519.5 959.36,517.4 961.22,515.3 963.09,513.3 964.96,511.3 966.84,509.2 968.73,507.2 970.63,505.2 972.53,503.2 974.43,501.2 976.35,499.2 978.27,497.3 980.19,495.3 982.12,493.3 984.06,491.4 986.01,489.4 987.96,487.5 989.91,485.6 991.88,483.7 993.85,481.7 995.82,479.8 997.80,478.0 999.79,476.1 1001.78,474.2 1003.78,472.3 1005.79,470.5 1007.80,468.6 1009.82,466.8 1011.84,465.0 1013.87,463.1 1015.90,461.3 1017.94,459.5 1019.99,457.7 1022.04,455.9 1024.09,454.2 1026.16,452.4 1028.22,450.6 1030.30,448.9 1032.38,447.2 1034.46,445.4 1036.55,443.7 1038.65,442.0 1040.75,440.3 1042.85,438.6 1044.96,436.9 1047.08,435.2 1049.20,433.6 1051.33,431.9 1053.46,430.2 1055.59,428.6 1057.73,427.0 1059.88,425.3 1062.03,423.7 1064.19,422.1 1066.35,420.5 1068.51,418.9 1070.68,417.4 1072.86,415.8 1075.04,414.2 1077.22,412.7 1079.41,411.1 1081.60,409.6 1083.80,408.1 1086.00,406.5 1088.20,405.0 1090.00,403.8"/>
<path stroke="#7E2F8E" d="M825.53,738.2 826.76,735.6 828.01,733.0 829.26,730.3 830.52,727.7 831.79,725.1 833.06,722.5 834.35,719.9 835.64,717.3 836.94,714.8 838.25,712.2 839.56,709.6 840.88,707.1 842.21,704.5 843.55,701.9 844.90,699.4 846.25,696.8 847.61,694.3 848.98,691.8 850.35,689.2 851.73,686.7 853.12,684.2 854.51,681.7 855.92,679.2 857.33,676.7 858.74,674.2 860.17,671.7 861.60,669.2 863.03,666.7 864.48,664.3 865.93,661.8 867.39,659.3 868.85,656.9 870.32,654.4 871.80,652.0 873.29,649.5 874.78,647.1 876.28,644.7 877.78,642.3 879.30,639.8 880.82,637.4 882.34,635.0 883.87,632.6 885.41,630.2 886.96,627.9 888.51,625.5 890.07,623.1 891.63,620.7 893.21,618.4 894.79,616.0 896.37,613.7 897.96,611.3 899.56,609.0 901.17,606.6 902.78,604.3 904.40,602.0 906.02,599.7 907.65,597.4 909.29,595.1 910.93,592.8 912.58,590.5 914.24,588.2 915.91,585.9 917.58,583.7 919.25,581.4 920.94,579.2 922.63,576.9 924.32,574.7 926.03,572.4 927.74,570.2 929.45,568.0 931.18,565.8 932.91,563.6 934.64,561.4 936.38,559.2 938.13,557.0 939.89,554.8 941.65,552.7 943.42,550.5 945.20,548.3 946.98,546.2 948.76,544.1 950.56,541.9 952.36,539.8 954.17,537.7 955.98,535.6 957.80,533.5 959.63,531.4 961.46,529.3 963.30,527.2 965.15,525.1 967.00,523.1 968.86,521.0 970.72,519.0 972.59,516.9 974.47,514.9 976.36,512.9 978.25,510.9 980.14,508.9 982.05,506.9 983.96,504.9 985.87,502.9 987.79,500.9 989.72,498.9 991.65,497.0 993.59,495.0 995.54,493.1 997.49,491.2 999.45,489.2 1001.42,487.3 1003.39,485.4 1005.36,483.5 1007.35,481.6 1009.33,479.8 1011.33,477.9 1013.33,476.0 1015.33,474.2 1017.35,472.3 1019.36,470.5 1021.39,468.6 1023.42,466.8 1025.45,465.0 1027.49,463.2 1029.54,461.4 1031.59,459.6 1033.65,457.9 1035.71,456.1 1037.78,454.3 1039.85,452.6 1041.93,450.9 1044.01,449.1 1046.10,447.4 1048.20,445.7 1050.30,444.0 1052.40,442.3 1054.51,440.6 1056.63,438.9 1058.75,437.2 1060.87,435.6 1063.01,433.9 1065.14,432.3 1067.28,430.7 1069.43,429.0 1071.58,427.4 1073.73,425.8 1075.89,424.2 1078.06,422.6 1080.22,421.0 1082.40,419.5 1084.58,417.9 1086.76,416.3 1088.95,414.8 1090.00,414.1"/>
<path stroke="#77AC30" d="M835.70,738.7 836.95,736.1 838.21,733.5 839.48,730.9 840.75,728.3 842.03,725.7 843.32,723.1 844.62,720.5 845.92,717.9 847.24,715.4 848.56,712.8 849.89,710.2 851.22,707.7 852.57,705.1 853.92,702.6 855.28,700.0 856.64,697.5 858.02,695.0 859.40,692.4 860.79,689.9 862.18,687.4 863.58,684.9 864.99,682.4 866.41,679.9 867.83,677.4 869.26,674.9 870.70,672.5 872.14,670.0 873.60,667.5 875.05,665.1 876.52,662.6 877.99,660.2 879.47,657.7 880.95,655.3 882.45,652.8 883.95,650.4 885.45,648.0 886.96,645.6 888.48,643.2 890.01,640.8 891.54,638.4 893.08,636.0 894.62,633.6 896.18,631.2 897.74,628.8 899.30,626.5 900.87,624.1 902.45,621.7 904.04,619.4 905.63,617.0 907.23,614.7 908.83,612.4 910.44,610.0 912.06,607.7 913.68,605.4 915.31,603.1 916.95,600.8 918.59,598.5 920.24,596.2 921.90,593.9 923.56,591.7 925.23,589.4 926.91,587.1 928.59,584.9 930.28,582.6 931.98,580.4 933.68,578.2 935.39,575.9 937.10,573.7 938.82,571.5 940.55,569.3 942.29,567.1 944.03,564.9 945.77,562.7 947.53,560.5 949.29,558.4 951.05,556.2 952.83,554.0 954.61,551.9 956.39,549.7 958.18,547.6 959.98,545.5 961.79,543.4 963.60,541.2 965.42,539.1 967.24,537.0 969.07,534.9 970.91,532.9 972.75,530.8 974.60,528.7 976.45,526.7 978.32,524.6 980.18,522.6 982.06,520.5 983.94,518.5 985.82,516.5 987.72,514.5 989.62,512.5 991.52,510.5 993.43,508.5 995.35,506.5 997.28,504.5 999.20,502.6 1001.14,500.6 1003.08,498.7 1005.03,496.7 1006.98,494.8 1008.94,492.9 1010.91,491.0 1012.88,489.1 1014.86,487.2 1016.84,485.3 1018.83,483.4 1020.83,481.5 1022.83,479.7 1024.84,477.8 1026.85,476.0 1028.87,474.1 1030.89,472.3 1032.92,470.5 1034.96,468.7 1037.00,466.9 1039.04,465.1 1041.10,463.3 1043.15,461.5 1045.22,459.8 1047.28,458.0 1049.36,456.3 1051.44,454.5 1053.52,452.8 1055.61,451.1 1057.71,449.4 1059.81,447.6 1061.91,446.0 1064.02,444.3 1066.14,442.6 1068.26,440.9 1070.38,439.3 1072.51,437.6 1074.65,436.0 1076.79,434.3 1078.93,432.7 1081.08,431.1 1083.23,429.5 1085.39,427.9 1087.56,426.3 1089.72,424.7 1090.00,424.5"/>
<path stroke="#4DBEEE" d="M846.11,738.7 847.37,736.1 848.65,733.5 849.93,730.9 851.22,728.3 852.52,725.7 853.82,723.1 855.13,720.6 856.45,718.0 857.78,715.4 859.12,712.9 860.46,710.3 861.81,707.8 863.17,705.3 864.54,702.7 865.91,700.2 867.29,697.7 868.68,695.2 870.08,692.6 871.48,690.1 872.89,687.6 874.31,685.1 875.73,682.7 877.16,680.2 878.60,677.7 880.05,675.2 881.50,672.8 882.96,670.3 884.43,667.8 885.90,665.4 887.38,662.9 888.86,660.5 890.36,658.1 891.86,655.6 893.36,653.2 894.88,650.8 896.40,648.4 897.92,646.0 899.46,643.6 901.00,641.2 902.54,638.8 904.10,636.4 905.66,634.1 907.22,631.7 908.80,629.3 910.38,627.0 911.96,624.6 913.55,622.3 915.15,619.9 916.76,617.6 918.37,615.3 919.99,613.0 921.61,610.7 923.24,608.4 924.88,606.1 926.53,603.8 928.18,601.5 929.83,599.2 931.50,596.9 933.17,594.7 934.84,592.4 936.53,590.1 938.22,587.9 939.91,585.6 941.61,583.4 943.32,581.2 945.04,579.0 946.76,576.7 948.48,574.5 950.22,572.3 951.96,570.1 953.70,568.0 955.46,565.8 957.22,563.6 958.98,561.4 960.75,559.3 962.53,557.1 964.32,555.0 966.11,552.9 967.91,550.7 969.71,548.6 971.52,546.5 973.33,544.4 975.16,542.3 976.99,540.2 978.82,538.1 980.66,536.0 982.51,534.0 984.36,531.9 986.22,529.8 988.09,527.8 989.96,525.8 991.84,523.7 993.72,521.7 995.61,519.7 997.51,517.7 999.41,515.7 1001.32,513.7 1003.24,511.7 1005.16,509.7 1007.08,507.8 1009.02,505.8 1010.96,503.9 1012.90,501.9 1014.85,500.0 1016.81,498.1 1018.77,496.1 1020.74,494.2 1022.71,492.3 1024.70,490.4 1026.68,488.6 1028.67,486.7 1030.67,484.8 1032.67,483.0 1034.68,481.1 1036.70,479.3 1038.72,477.4 1040.74,475.6 1042.77,473.8 1044.81,472.0 1046.85,470.2 1048.90,468.4 1050.96,466.6 1053.01,464.8 1055.08,463.1 1057.15,461.3 1059.22,459.6 1061.30,457.8 1063.39,456.1 1065.48,454.4 1067.57,452.7 1069.67,451.0 1071.78,449.3 1073.89,447.6 1076.01,445.9 1078.13,444.2 1080.25,442.6 1082.38,440.9 1084.52,439.3 1086.66,437.7 1088.80,436.0 1090.00,435.1"/>
<path stroke="#A2142F" d="M856.52,738.7 857.80,736.1 859.09,733.5 860.38,730.9 861.69,728.3 863.00,725.8 864.32,723.2 865.65,720.6 866.98,718.1 868.33,715.5 869.68,713.0 871.04,710.5 872.40,707.9 873.78,705.4 875.16,702.9 876.55,700.4 877.94,697.8 879.35,695.3 880.76,692.8 882.17,690.3 883.60,687.9 885.03,685.4 886.47,682.9 887.92,680.4 889.37,678.0 890.83,675.5 892.29,673.0 893.77,670.6 895.25,668.1 896.74,665.7 898.23,663.3 899.73,660.9 901.24,658.4 902.75,656.0 904.27,653.6 905.80,651.2 907.34,648.8 908.88,646.4 910.42,644.0 911.98,641.7 913.54,639.3 915.11,636.9 916.68,634.6 918.26,632.2 919.85,629.9 921.44,627.5 923.04,625.2 924.65,622.8 926.26,620.5 927.88,618.2 929.50,615.9 931.13,613.6 932.77,611.3 934.42,609.0 936.07,606.7 937.73,604.4 939.39,602.1 941.06,599.9 942.74,597.6 944.42,595.4 946.11,593.1 947.80,590.9 949.51,588.6 951.21,586.4 952.93,584.2 954.65,582.0 956.38,579.8 958.11,577.6 959.85,575.4 961.60,573.2 963.35,571.0 965.11,568.8 966.87,566.7 968.64,564.5 970.42,562.4 972.20,560.2 973.99,558.1 975.79,555.9 977.59,553.8 979.40,551.7 981.21,549.6 983.04,547.5 984.86,545.4 986.70,543.3 988.53,541.2 990.38,539.2 992.23,537.1 994.09,535.0 995.95,533.0 997.82,531.0 999.70,528.9 1001.58,526.9 1003.47,524.9 1005.36,522.9 1007.26,520.9 1009.17,518.9 1011.08,516.9 1013.00,514.9 1014.93,512.9 1016.86,511.0 1018.79,509.0 1020.73,507.1 1022.68,505.1 1024.64,503.2 1026.60,501.3 1028.56,499.4 1030.53,497.5 1032.51,495.6 1034.49,493.7 1036.48,491.8 1038.47,489.9 1040.47,488.1 1042.48,486.2 1044.49,484.4 1046.51,482.5 1048.53,480.7 1050.56,478.9 1052.59,477.1 1054.63,475.3 1056.67,473.5 1058.72,471.7 1060.78,469.9 1062.84,468.1 1064.90,466.4 1066.97,464.6 1069.05,462.9 1071.13,461.1 1073.22,459.4 1075.31,457.7 1077.40,456.0 1079.50,454.3 1081.61,452.6 1083.72,450.9 1085.84,449.2 1087.96,447.5 1090.00,446.0"/>
<path stroke="#0072BD" d="M866.68,739.2 867.97,736.6 869.27,734.0 870.58,731.5 871.90,728.9 873.22,726.3 874.56,723.8 875.90,721.2 877.25,718.7 878.60,716.1 879.97,713.6 881.34,711.1 882.72,708.5 884.11,706.0 885.50,703.5 886.90,701.0 888.31,698.5 889.73,696.0 891.15,693.5 892.58,691.0 894.02,688.5 895.47,686.1 896.92,683.6 898.38,681.1 899.84,678.7 901.32,676.2 902.80,673.8 904.28,671.4 905.78,668.9 907.28,666.5 908.78,664.1 910.30,661.7 911.82,659.3 913.35,656.9 914.88,654.5 916.42,652.1 917.97,649.7 919.52,647.3 921.08,644.9 922.65,642.6 924.22,640.2 925.80,637.8 927.39,635.5 928.98,633.2 930.58,630.8 932.18,628.5 933.80,626.2 935.41,623.8 937.04,621.5 938.67,619.2 940.31,616.9 941.95,614.6 943.60,612.3 945.26,610.1 946.92,607.8 948.59,605.5 950.27,603.3 951.95,601.0 953.63,598.7 955.33,596.5 957.03,594.3 958.74,592.0 960.45,589.8 962.17,587.6 963.89,585.4 965.63,583.2 967.36,581.0 969.11,578.8 970.86,576.6 972.62,574.4 974.38,572.3 976.15,570.1 977.92,568.0 979.70,565.8 981.49,563.7 983.29,561.5 985.09,559.4 986.89,557.3 988.70,555.2 990.52,553.1 992.35,551.0 994.18,548.9 996.01,546.8 997.86,544.7 999.71,542.7 1001.56,540.6 1003.42,538.6 1005.29,536.5 1007.16,534.5 1009.04,532.4 1010.92,530.4 1012.82,528.4 1014.71,526.4 1016.61,524.4 1018.52,522.4 1020.44,520.4 1022.36,518.5 1024.28,516.5 1026.22,514.5 1028.16,512.6 1030.10,510.6 1032.05,508.7 1034.00,506.8 1035.97,504.9 1037.93,502.9 1039.91,501.0 1041.88,499.1 1043.87,497.3 1045.86,495.4 1047.85,493.5 1049.85,491.7 1051.86,489.8 1053.87,488.0 1055.89,486.1 1057.91,484.3 1059.94,482.5 1061.97,480.7 1064.01,478.9 1066.06,477.1 1068.11,475.3 1070.16,473.5 1072.22,471.7 1074.29,470.0 1076.36,468.2 1078.43,466.5 1080.52,464.7 1082.60,463.0 1084.69,461.3 1086.79,459.6 1088.89,457.9 1090.00,457.0"/>
<path stroke="#D95319" d="M876.93,739.5 878.24,736.9 879.55,734.4 880.87,731.8 882.21,729.2 883.54,726.7 884.89,724.1 886.25,721.6 887.61,719.0 888.98,716.5 890.36,714.0 891.74,711.5 893.14,709.0 894.54,706.4 895.95,703.9 897.36,701.4 898.78,699.0 900.21,696.5 901.65,694.0 903.10,691.5 904.55,689.1 906.01,686.6 907.47,684.1 908.94,681.7 910.42,679.2 911.91,676.8 913.40,674.4 914.90,671.9 916.41,669.5 917.92,667.1 919.44,664.7 920.97,662.3 922.50,659.9 924.04,657.5 925.59,655.1 927.14,652.7 928.70,650.4 930.27,648.0 931.84,645.6 933.42,643.3 935.01,640.9 936.60,638.6 938.20,636.3 939.81,633.9 941.42,631.6 943.04,629.3 944.66,627.0 946.29,624.7 947.93,622.4 949.57,620.1 951.22,617.8 952.88,615.5 954.54,613.2 956.21,610.9 957.88,608.7 959.56,606.4 961.25,604.2 962.95,601.9 964.64,599.7 966.35,597.5 968.06,595.2 969.78,593.0 971.51,590.8 973.24,588.6 974.97,586.4 976.72,584.2 978.47,582.0 980.22,579.9 981.98,577.7 983.75,575.5 985.52,573.4 987.30,571.2 989.09,569.1 990.88,567.0 992.68,564.8 994.48,562.7 996.29,560.6 998.11,558.5 999.93,556.4 1001.76,554.3 1003.60,552.2 1005.44,550.1 1007.28,548.1 1009.13,546.0 1010.99,543.9 1012.86,541.9 1014.73,539.9 1016.60,537.8 1018.49,535.8 1020.37,533.8 1022.27,531.8 1024.17,529.8 1026.07,527.8 1027.98,525.8 1029.90,523.8 1031.83,521.8 1033.75,519.9 1035.69,517.9 1037.63,516.0 1039.58,514.0 1041.53,512.1 1043.48,510.2 1045.45,508.3 1047.42,506.3 1049.39,504.4 1051.37,502.6 1053.36,500.7 1055.35,498.8 1057.35,496.9 1059.35,495.1 1061.36,493.2 1063.37,491.4 1065.39,489.5 1067.41,487.7 1069.44,485.9 1071.48,484.1 1073.52,482.3 1075.56,480.5 1077.61,478.7 1079.67,476.9 1081.73,475.2 1083.80,473.4 1085.87,471.6 1087.94,469.9 1090.00,468.2"/>
<path stroke="#EDB120" d="M887.23,739.7 888.55,737.1 889.88,734.6 891.21,732.0 892.56,729.5 893.91,726.9 895.27,724.4 896.64,721.8 898.02,719.3 899.40,716.8 900.79,714.3 902.19,711.8 903.60,709.3 905.02,706.8 906.44,704.3 907.87,701.8 909.30,699.3 910.75,696.8 912.20,694.4 913.66,691.9 915.12,689.5 916.59,687.0 918.07,684.6 919.56,682.1 921.05,679.7 922.55,677.3 924.06,674.8 925.57,672.4 927.09,670.0 928.62,667.6 930.15,665.2 931.69,662.8 933.24,660.4 934.79,658.1 936.35,655.7 937.92,653.3 939.49,651.0 941.07,648.6 942.66,646.3 944.25,643.9 945.85,641.6 947.45,639.2 949.06,636.9 950.68,634.6 952.31,632.3 953.94,630.0 955.57,627.7 957.22,625.4 958.87,623.1 960.52,620.8 962.18,618.5 963.85,616.3 965.53,614.0 967.21,611.8 968.89,609.5 970.59,607.3 972.29,605.0 973.99,602.8 975.70,600.6 977.42,598.3 979.15,596.1 980.88,593.9 982.61,591.7 984.35,589.5 986.10,587.4 987.86,585.2 989.62,583.0 991.38,580.8 993.15,578.7 994.93,576.5 996.72,574.4 998.51,572.3 1000.31,570.1 1002.11,568.0 1003.92,565.9 1005.73,563.8 1007.55,561.7 1009.38,559.6 1011.21,557.5 1013.05,555.4 1014.89,553.3 1016.74,551.3 1018.60,549.2 1020.46,547.2 1022.33,545.1 1024.20,543.1 1026.08,541.1 1027.97,539.0 1029.86,537.0 1031.76,535.0 1033.66,533.0 1035.57,531.0 1037.48,529.1 1039.40,527.1 1041.33,525.1 1043.26,523.2 1045.20,521.2 1047.14,519.3 1049.09,517.3 1051.04,515.4 1053.00,513.5 1054.97,511.6 1056.94,509.7 1058.92,507.8 1060.90,505.9 1062.89,504.0 1064.88,502.1 1066.88,500.2 1068.88,498.4 1070.89,496.5 1072.91,494.7 1074.93,492.9 1076.95,491.0 1078.98,489.2 1081.02,487.4 1083.06,485.6 1085.11,483.8 1087.16,482.0 1089.22,480.3 1090.00,479.6"/>
<path stroke="#7E2F8E" d="M897.63,739.7 898.96,737.1 900.31,734.6 901.66,732.0 903.02,729.5 904.38,727.0 905.76,724.4 907.14,721.9 908.53,719.4 909.93,716.9 911.34,714.4 912.75,711.9 914.17,709.4 915.60,706.9 917.04,704.4 918.48,702.0 919.93,699.5 921.39,697.0 922.85,694.6 924.32,692.1 925.80,689.7 927.29,687.2 928.78,684.8 930.28,682.4 931.79,680.0 933.30,677.5 934.82,675.1 936.35,672.7 937.88,670.3 939.42,667.9 940.97,665.6 942.52,663.2 944.08,660.8 945.65,658.4 947.22,656.1 948.80,653.7 950.39,651.4 951.98,649.0 953.58,646.7 955.19,644.4 956.80,642.0 958.42,639.7 960.04,637.4 961.67,635.1 963.31,632.8 964.95,630.5 966.60,628.2 968.26,625.9 969.92,623.7 971.59,621.4 973.26,619.1 974.95,616.9 976.63,614.6 978.32,612.4 980.02,610.1 981.73,607.9 983.44,605.7 985.16,603.5 986.88,601.3 988.61,599.0 990.35,596.9 992.09,594.7 993.84,592.5 995.59,590.3 997.35,588.1 999.12,586.0 1000.89,583.8 1002.66,581.6 1004.45,579.5 1006.24,577.4 1008.03,575.2 1009.83,573.1 1011.64,571.0 1013.46,568.9 1015.28,566.8 1017.10,564.7 1018.93,562.6 1020.77,560.5 1022.61,558.4 1024.46,556.4 1026.31,554.3 1028.17,552.3 1030.04,550.2 1031.91,548.2 1033.79,546.1 1035.67,544.1 1037.56,542.1 1039.46,540.1 1041.36,538.1 1043.27,536.1 1045.18,534.1 1047.10,532.1 1049.02,530.2 1050.95,528.2 1052.88,526.3 1054.82,524.3 1056.77,522.4 1058.72,520.4 1060.68,518.5 1062.64,516.6 1064.61,514.7 1066.58,512.8 1068.56,510.9 1070.55,509.0 1072.54,507.1 1074.53,505.3 1076.53,503.4 1078.54,501.5 1080.55,499.7 1082.57,497.9 1084.59,496.0 1086.62,494.2 1088.65,492.4 1090.00,491.2"/>
<path stroke="#77AC30" d="M908.56,738.7 909.91,736.2 911.27,733.6 912.64,731.1 914.01,728.6 915.40,726.0 916.79,723.5 918.19,721.0 919.60,718.5 921.01,716.0 922.44,713.5 923.87,711.0 925.31,708.6 926.75,706.1 928.20,703.6 929.66,701.2 931.13,698.7 932.60,696.3 934.09,693.8 935.57,691.4 937.07,688.9 938.57,686.5 940.08,684.1 941.60,681.7 943.12,679.3 944.65,676.9 946.19,674.5 947.73,672.1 949.28,669.7 950.84,667.3 952.40,665.0 953.97,662.6 955.54,660.2 957.13,657.9 958.72,655.5 960.31,653.2 961.91,650.9 963.52,648.5 965.14,646.2 966.76,643.9 968.38,641.6 970.02,639.3 971.66,637.0 973.30,634.7 974.95,632.4 976.61,630.1 978.28,627.9 979.95,625.6 981.62,623.3 983.31,621.1 985.00,618.8 986.69,616.6 988.39,614.4 990.10,612.1 991.81,609.9 993.53,607.7 995.26,605.5 996.99,603.3 998.73,601.1 1000.47,598.9 1002.22,596.7 1003.98,594.5 1005.74,592.4 1007.51,590.2 1009.28,588.0 1011.06,585.9 1012.84,583.7 1014.63,581.6 1016.43,579.5 1018.23,577.4 1020.04,575.2 1021.86,573.1 1023.68,571.0 1025.50,568.9 1027.34,566.9 1029.17,564.8 1031.02,562.7 1032.87,560.6 1034.72,558.6 1036.58,556.5 1038.45,554.5 1040.32,552.4 1042.20,550.4 1044.08,548.4 1045.97,546.4 1047.87,544.4 1049.77,542.4 1051.68,540.4 1053.59,538.4 1055.51,536.4 1057.43,534.4 1059.36,532.5 1061.29,530.5 1063.23,528.6 1065.18,526.6 1067.13,524.7 1069.09,522.8 1071.05,520.9 1073.02,518.9 1074.99,517.0 1076.97,515.2 1078.95,513.3 1080.94,511.4 1082.94,509.5 1084.94,507.7 1086.94,505.8 1088.95,504.0 1090.00,503.0"/>
<path stroke="#4DBEEE" d="M918.32,739.9 919.69,737.4 921.06,734.8 922.43,732.3 923.82,729.8 925.21,727.3 926.62,724.8 928.03,722.3 929.45,719.8 930.87,717.3 932.30,714.8 933.74,712.3 935.19,709.9 936.65,707.4 938.11,704.9 939.58,702.5 941.06,700.0 942.54,697.6 944.03,695.2 945.53,692.7 947.04,690.3 948.55,687.9 950.07,685.5 951.60,683.1 953.13,680.7 954.67,678.3 956.22,675.9 957.77,673.5 959.33,671.2 960.89,668.8 962.47,666.4 964.05,664.1 965.63,661.7 967.23,659.4 968.82,657.0 970.43,654.7 972.04,652.4 973.66,650.1 975.28,647.7 976.91,645.4 978.55,643.1 980.19,640.8 981.84,638.6 983.50,636.3 985.16,634.0 986.83,631.7 988.50,629.5 990.18,627.2 991.87,625.0 993.56,622.7 995.26,620.5 996.96,618.2 998.67,616.0 1000.39,613.8 1002.11,611.6 1003.84,609.4 1005.57,607.2 1007.31,605.0 1009.06,602.8 1010.81,600.6 1012.57,598.4 1014.33,596.3 1016.10,594.1 1017.88,592.0 1019.66,589.8 1021.45,587.7 1023.24,585.5 1025.04,583.4 1026.85,581.3 1028.66,579.2 1030.47,577.1 1032.30,575.0 1034.12,572.9 1035.96,570.8 1037.80,568.7 1039.64,566.7 1041.49,564.6 1043.35,562.5 1045.21,560.5 1047.08,558.4 1048.95,556.4 1050.83,554.4 1052.72,552.4 1054.61,550.3 1056.51,548.3 1058.41,546.3 1060.32,544.3 1062.23,542.4 1064.15,540.4 1066.07,538.4 1068.00,536.4 1069.94,534.5 1071.88,532.5 1073.82,530.6 1075.77,528.7 1077.73,526.8 1079.69,524.8 1081.66,522.9 1083.63,521.0 1085.61,519.1 1087.60,517.2 1089.58,515.4 1090.00,515.0"/>
<path stroke="#A2142F" d="M928.72,739.9 930.10,737.4 931.48,734.9 932.87,732.3 934.27,729.8 935.68,727.3 937.10,724.8 938.52,722.3 939.95,719.9 941.39,717.4 942.84,714.9 944.29,712.4 945.76,710.0 947.22,707.5 948.70,705.1 950.18,702.6 951.67,700.2 953.17,697.8 954.68,695.4 956.19,692.9 957.71,690.5 959.23,688.1 960.77,685.7 962.31,683.3 963.85,680.9 965.40,678.6 966.96,676.2 968.53,673.8 970.10,671.5 971.68,669.1 973.27,666.8 974.86,664.4 976.46,662.1 978.06,659.7 979.68,657.4 981.29,655.1 982.92,652.8 984.55,650.5 986.18,648.2 987.83,645.9 989.48,643.6 991.13,641.3 992.79,639.0 994.46,636.8 996.13,634.5 997.81,632.2 999.50,630.0 1001.19,627.7 1002.89,625.5 1004.59,623.3 1006.30,621.1 1008.02,618.8 1009.74,616.6 1011.47,614.4 1013.20,612.2 1014.94,610.0 1016.69,607.8 1018.44,605.7 1020.20,603.5 1021.96,601.3 1023.73,599.1 1025.51,597.0 1027.29,594.8 1029.07,592.7 1030.87,590.6 1032.66,588.4 1034.47,586.3 1036.28,584.2 1038.09,582.1 1039.91,580.0 1041.74,577.9 1043.57,575.8 1045.41,573.7 1047.26,571.7 1049.11,569.6 1050.96,567.5 1052.82,565.5 1054.69,563.4 1056.56,561.4 1058.44,559.4 1060.32,557.4 1062.21,555.3 1064.10,553.3 1066.00,551.3 1067.91,549.3 1069.82,547.3 1071.74,545.4 1073.66,543.4 1075.59,541.4 1077.52,539.5 1079.46,537.5 1081.40,535.6 1083.35,533.6 1085.30,531.7 1087.26,529.8 1089.23,527.9 1090.00,527.1"/>
<path stroke="#0072BD" d="M935.53,746.5 936.90,744.0 938.28,741.4 939.66,738.9 941.05,736.4 942.45,733.9 943.86,731.4 945.28,728.9 946.70,726.4 948.14,723.9 949.58,721.4 951.03,719.0 952.48,716.5 953.94,714.1 955.41,711.6 956.89,709.2 958.38,706.7 959.87,704.3 961.37,701.9 962.88,699.4 964.39,697.0 965.91,694.6 967.44,692.2 968.97,689.8 970.51,687.4 972.06,685.0 973.62,682.7 975.18,680.3 976.75,677.9 978.32,675.6 979.90,673.2 981.49,670.9 983.09,668.5 984.69,666.2 986.29,663.9 987.91,661.5 989.53,659.2 991.15,656.9 992.79,654.6 994.43,652.3 996.07,650.0 997.72,647.7 999.38,645.4 1001.04,643.2 1002.71,640.9 1004.39,638.6 1006.07,636.4 1007.76,634.1 1009.45,631.9 1011.15,629.7 1012.86,627.4 1014.57,625.2 1016.29,623.0 1018.01,620.8 1019.74,618.6 1021.48,616.4 1023.22,614.2 1024.97,612.0 1026.72,609.8 1028.48,607.6 1030.24,605.5 1032.02,603.3 1033.79,601.2 1035.57,599.0 1037.36,596.9 1039.16,594.7 1040.96,592.6 1042.76,590.5 1044.57,588.4 1046.39,586.3 1048.21,584.2 1050.04,582.1 1051.87,580.0 1053.71,577.9 1055.56,575.9 1057.41,573.8 1059.26,571.7 1061.12,569.7 1062.99,567.6 1064.86,565.6 1066.74,563.6 1068.63,561.5 1070.51,559.5 1072.41,557.5 1074.31,555.5 1076.21,553.5 1078.13,551.5 1080.04,549.6 1081.96,547.6 1083.89,545.6 1085.82,543.7 1087.76,541.7 1089.71,539.8 1090.00,539.5"/>
<path stroke="#D95319" d="M945.77,746.7 947.15,744.2 948.54,741.7 949.94,739.1 951.34,736.6 952.76,734.1 954.18,731.7 955.61,729.2 957.05,726.7 958.49,724.2 959.94,721.7 961.40,719.3 962.87,716.8 964.35,714.4 965.83,711.9 967.32,709.5 968.82,707.1 970.32,704.7 971.84,702.2 973.35,699.8 974.88,697.4 976.41,695.0 977.95,692.6 979.50,690.3 981.05,687.9 982.61,685.5 984.18,683.1 985.76,680.8 987.34,678.4 988.92,676.1 990.52,673.7 992.12,671.4 993.72,669.1 995.33,666.7 996.95,664.4 998.58,662.1 1000.21,659.8 1001.85,657.5 1003.49,655.2 1005.14,652.9 1006.80,650.6 1008.46,648.4 1010.13,646.1 1011.81,643.8 1013.49,641.6 1015.18,639.3 1016.87,637.1 1018.57,634.8 1020.27,632.6 1021.98,630.4 1023.70,628.2 1025.42,626.0 1027.15,623.7 1028.89,621.6 1030.63,619.4 1032.37,617.2 1034.13,615.0 1035.88,612.8 1037.65,610.7 1039.42,608.5 1041.19,606.3 1042.97,604.2 1044.76,602.0 1046.55,599.9 1048.35,597.8 1050.15,595.7 1051.96,593.6 1053.78,591.4 1055.60,589.3 1057.43,587.2 1059.26,585.2 1061.09,583.1 1062.94,581.0 1064.79,578.9 1066.64,576.9 1068.50,574.8 1070.37,572.8 1072.24,570.7 1074.11,568.7 1075.99,566.7 1077.88,564.7 1079.77,562.7 1081.67,560.7 1083.57,558.7 1085.48,556.7 1087.40,554.7 1089.32,552.7 1090.00,552.0"/>
<path stroke="#EDB120" d="M955.96,747.0 957.35,744.5 958.75,742.0 960.16,739.5 961.58,737.0 963.00,734.5 964.44,732.0 965.88,729.5 967.33,727.1 968.78,724.6 970.25,722.1 971.72,719.7 973.20,717.3 974.69,714.8 976.18,712.4 977.69,710.0 979.20,707.5 980.71,705.1 982.24,702.7 983.77,700.3 985.30,697.9 986.85,695.5 988.40,693.2 989.96,690.8 991.52,688.4 993.10,686.0 994.68,683.7 996.26,681.3 997.85,679.0 999.45,676.7 1001.06,674.3 1002.67,672.0 1004.28,669.7 1005.91,667.4 1007.54,665.1 1009.18,662.8 1010.82,660.5 1012.47,658.2 1014.12,655.9 1015.79,653.6 1017.45,651.3 1019.13,649.1 1020.81,646.8 1022.49,644.6 1024.18,642.3 1025.88,640.1 1027.59,637.9 1029.30,635.6 1031.01,633.4 1032.73,631.2 1034.46,629.0 1036.19,626.8 1037.93,624.6 1039.68,622.4 1041.43,620.2 1043.19,618.1 1044.95,615.9 1046.72,613.7 1048.49,611.6 1050.27,609.4 1052.05,607.3 1053.85,605.1 1055.64,603.0 1057.44,600.9 1059.25,598.8 1061.06,596.7 1062.88,594.6 1064.71,592.5 1066.54,590.4 1068.37,588.3 1070.21,586.2 1072.06,584.1 1073.91,582.1 1075.77,580.0 1077.63,578.0 1079.50,575.9 1081.38,573.9 1083.25,571.9 1085.14,569.9 1087.03,567.8 1088.92,565.8 1090.00,564.7"/>
<path stroke="#7E2F8E" d="M966.30,747.0 967.71,744.5 969.12,742.0 970.54,739.5 971.97,737.0 973.41,734.5 974.86,732.1 976.31,729.6 977.78,727.1 979.25,724.7 980.72,722.2 982.21,719.8 983.70,717.4 985.20,714.9 986.71,712.5 988.22,710.1 989.75,707.7 991.28,705.3 992.81,702.9 994.36,700.5 995.91,698.1 997.46,695.8 999.03,693.4 1000.60,691.0 1002.18,688.7 1003.76,686.3 1005.35,684.0 1006.95,681.6 1008.55,679.3 1010.16,677.0 1011.78,674.7 1013.40,672.3 1015.03,670.0 1016.67,667.7 1018.31,665.4 1019.96,663.1 1021.61,660.9 1023.28,658.6 1024.94,656.3 1026.62,654.1 1028.30,651.8 1029.98,649.5 1031.67,647.3 1033.37,645.1 1035.07,642.8 1036.78,640.6 1038.50,638.4 1040.22,636.2 1041.94,634.0 1043.68,631.8 1045.42,629.6 1047.16,627.4 1048.91,625.2 1050.67,623.0 1052.43,620.8 1054.19,618.7 1055.97,616.5 1057.75,614.4 1059.53,612.2 1061.32,610.1 1063.12,608.0 1064.92,605.8 1066.72,603.7 1068.54,601.6 1070.35,599.5 1072.18,597.4 1074.01,595.3 1075.84,593.2 1077.68,591.2 1079.52,589.1 1081.37,587.0 1083.23,585.0 1085.09,582.9 1086.96,580.9 1088.83,578.8 1090.00,577.6"/>
<path stroke="#77AC30" d="M976.65,747.0 978.06,744.5 979.49,742.0 980.93,739.5 982.37,737.1 983.82,734.6 985.28,732.1 986.75,729.7 988.22,727.2 989.71,724.8 991.20,722.4 992.69,719.9 994.20,717.5 995.71,715.1 997.23,712.7 998.76,710.3 1000.30,707.9 1001.84,705.5 1003.39,703.1 1004.94,700.7 1006.50,698.4 1008.07,696.0 1009.65,693.6 1011.23,691.3 1012.82,688.9 1014.42,686.6 1016.02,684.3 1017.63,681.9 1019.25,679.6 1020.87,677.3 1022.50,675.0 1024.13,672.7 1025.78,670.4 1027.42,668.1 1029.08,665.8 1030.74,663.5 1032.40,661.3 1034.08,659.0 1035.75,656.7 1037.44,654.5 1039.13,652.2 1040.83,650.0 1042.53,647.8 1044.24,645.5 1045.95,643.3 1047.67,641.1 1049.40,638.9 1051.13,636.7 1052.87,634.5 1054.61,632.3 1056.36,630.1 1058.12,627.9 1059.88,625.8 1061.64,623.6 1063.41,621.5 1065.19,619.3 1066.98,617.2 1068.76,615.0 1070.56,612.9 1072.36,610.8 1074.16,608.6 1075.98,606.5 1077.79,604.4 1079.61,602.3 1081.44,600.2 1083.28,598.2 1085.11,596.1 1086.96,594.0 1088.81,591.9 1090.00,590.6"/>
<path stroke="#4DBEEE" d="M986.99,747.0 988.42,744.5 989.86,742.0 991.31,739.6 992.77,737.1 994.23,734.6 995.70,732.2 997.18,729.7 998.67,727.3 1000.17,724.9 1001.67,722.5 1003.18,720.0 1004.70,717.6 1006.22,715.2 1007.75,712.8 1009.29,710.4 1010.84,708.0 1012.40,705.7 1013.96,703.3 1015.52,700.9 1017.10,698.6 1018.68,696.2 1020.27,693.9 1021.86,691.5 1023.47,689.2 1025.07,686.9 1026.69,684.5 1028.31,682.2 1029.94,679.9 1031.57,677.6 1033.21,675.3 1034.86,673.0 1036.51,670.7 1038.17,668.5 1039.84,666.2 1041.51,663.9 1043.19,661.7 1044.87,659.4 1046.56,657.2 1048.25,654.9 1049.96,652.7 1051.66,650.5 1053.38,648.2 1055.10,646.0 1056.82,643.8 1058.55,641.6 1060.29,639.4 1062.03,637.2 1063.78,635.0 1065.54,632.9 1067.30,630.7 1069.06,628.5 1070.83,626.4 1072.61,624.2 1074.39,622.1 1076.18,619.9 1077.97,617.8 1079.77,615.7 1081.58,613.5 1083.39,611.4 1085.20,609.3 1087.02,607.2 1088.85,605.1 1090.00,603.8"/>
<path stroke="#A2142F" d="M997.28,747.1 998.72,744.6 1000.17,742.2 1001.63,739.7 1003.10,737.2 1004.58,734.8 1006.06,732.4 1007.56,729.9 1009.05,727.5 1010.56,725.1 1012.08,722.7 1013.60,720.2 1015.13,717.8 1016.67,715.5 1018.21,713.1 1019.76,710.7 1021.32,708.3 1022.89,705.9 1024.46,703.6 1026.04,701.2 1027.63,698.9 1029.22,696.5 1030.82,694.2 1032.43,691.9 1034.04,689.5 1035.66,687.2 1037.28,684.9 1038.92,682.6 1040.56,680.3 1042.20,678.0 1043.85,675.7 1045.51,673.4 1047.18,671.2 1048.85,668.9 1050.52,666.6 1052.20,664.4 1053.89,662.1 1055.59,659.9 1057.29,657.7 1058.99,655.4 1060.71,653.2 1062.43,651.0 1064.15,648.8 1065.88,646.6 1067.62,644.4 1069.36,642.2 1071.10,640.0 1072.86,637.8 1074.62,635.7 1076.38,633.5 1078.15,631.3 1079.93,629.2 1081.71,627.0 1083.49,624.9 1085.29,622.8 1087.08,620.6 1088.89,618.5 1090.00,617.2"/>
<path stroke="#0072BD" d="M1007.68,747.0 1009.14,744.5 1010.60,742.1 1012.08,739.6 1013.56,737.2 1015.05,734.7 1016.54,732.3 1018.05,729.9 1019.56,727.5 1021.08,725.1 1022.61,722.7 1024.14,720.3 1025.68,717.9 1027.23,715.5 1028.79,713.1 1030.35,710.7 1031.92,708.4 1033.50,706.0 1035.09,703.7 1036.68,701.3 1038.28,699.0 1039.88,696.7 1041.49,694.3 1043.11,692.0 1044.74,689.7 1046.37,687.4 1048.01,685.1 1049.65,682.8 1051.30,680.5 1052.96,678.2 1054.62,676.0 1056.29,673.7 1057.97,671.4 1059.65,669.2 1061.34,666.9 1063.03,664.7 1064.73,662.4 1066.44,660.2 1068.15,658.0 1069.87,655.8 1071.59,653.6 1073.32,651.4 1075.05,649.2 1076.79,647.0 1078.54,644.8 1080.29,642.6 1082.05,640.4 1083.82,638.3 1085.58,636.1 1087.36,633.9 1089.14,631.8 1090.00,630.8"/>
<path stroke="#D95319" d="M1017.91,747.2 1019.38,744.7 1020.85,742.3 1022.34,739.9 1023.83,737.4 1025.33,735.0 1026.84,732.6 1028.35,730.2 1029.88,727.8 1031.41,725.4 1032.95,723.0 1034.49,720.6 1036.05,718.2 1037.61,715.8 1039.18,713.5 1040.75,711.1 1042.33,708.7 1043.92,706.4 1045.52,704.1 1047.12,701.7 1048.73,699.4 1050.35,697.1 1051.97,694.8 1053.60,692.4 1055.23,690.1 1056.88,687.8 1058.53,685.6 1060.18,683.3 1061.84,681.0 1063.51,678.7 1065.18,676.5 1066.86,674.2 1068.55,672.0 1070.24,669.7 1071.94,667.5 1073.64,665.2 1075.35,663.0 1077.07,660.8 1078.79,658.6 1080.52,656.4 1082.25,654.2 1083.99,652.0 1085.74,649.8 1087.49,647.6 1089.25,645.4 1090.00,644.5"/>
<path stroke="#EDB120" d="M1028.25,747.2 1029.73,744.8 1031.22,742.3 1032.72,739.9 1034.22,737.5 1035.73,735.0 1037.25,732.6 1038.78,730.2 1040.32,727.8 1041.86,725.4 1043.41,723.1 1044.97,720.7 1046.54,718.3 1048.11,716.0 1049.69,713.6 1051.27,711.3 1052.87,708.9 1054.47,706.6 1056.08,704.2 1057.69,701.9 1059.31,699.6 1060.94,697.3 1062.57,695.0 1064.21,692.7 1065.86,690.4 1067.51,688.1 1069.17,685.8 1070.84,683.6 1072.51,681.3 1074.19,679.0 1075.87,676.8 1077.57,674.5 1079.26,672.3 1080.96,670.1 1082.67,667.8 1084.39,665.6 1086.11,663.4 1087.84,661.2 1089.57,659.0 1090.00,658.5"/>
<path stroke="#7E2F8E" d="M1038.60,747.2 1040.09,744.8 1041.59,742.3 1043.10,739.9 1044.61,737.5 1046.14,735.1 1047.67,732.7 1049.21,730.3 1050.76,727.9 1052.31,725.5 1053.87,723.2 1055.44,720.8 1057.02,718.4 1058.60,716.1 1060.20,713.7 1061.79,711.4 1063.40,709.1 1065.01,706.8 1066.63,704.4 1068.25,702.1 1069.89,699.8 1071.53,697.5 1073.17,695.2 1074.82,692.9 1076.48,690.7 1078.14,688.4 1079.82,686.1 1081.49,683.9 1083.18,681.6 1084.86,679.4 1086.56,677.1 1088.26,674.9 1089.97,672.6 1090.00,672.6"/>
<path stroke="#77AC30" d="M1048.94,747.2 1050.44,744.8 1051.96,742.4 1053.48,739.9 1055.00,737.5 1056.54,735.1 1058.08,732.8 1059.64,730.4 1061.19,728.0 1062.76,725.6 1064.33,723.3 1065.92,720.9 1067.50,718.6 1069.10,716.2 1070.70,713.9 1072.31,711.6 1073.93,709.2 1075.55,706.9 1077.18,704.6 1078.82,702.3 1080.46,700.0 1082.11,697.7 1083.77,695.5 1085.43,693.2 1087.10,690.9 1088.77,688.6 1090.00,687.0"/>
<path stroke="#4DBEEE" d="M1058.79,748.0 1060.30,745.6 1061.82,743.2 1063.35,740.8 1064.89,738.4 1066.43,736.0 1067.98,733.6 1069.54,731.2 1071.11,728.9 1072.69,726.5 1074.27,724.2 1075.86,721.8 1077.46,719.5 1079.06,717.1 1080.67,714.8 1082.29,712.5 1083.91,710.2 1085.55,707.9 1087.18,705.6 1088.83,703.3 1090.00,701.7"/>
<path stroke="#A2142F" d="M1069.44,747.5 1070.97,745.1 1072.50,742.7 1074.04,740.3 1075.59,737.9 1077.15,735.5 1078.72,733.2 1080.29,730.8 1081.87,728.5 1083.46,726.1 1085.05,723.8 1086.65,721.4 1088.26,719.1 1089.88,716.8 1090.00,716.6"/>
<path stroke="#0072BD" d="M1079.46,748.0 1081.00,745.6 1082.54,743.2 1084.09,740.8 1085.65,738.5 1087.22,736.1 1088.80,733.7 1090.00,731.9"/>
</g>
<g class="t" text-anchor="middle">
<text x="234.5" y="926">0</text>
<text x="443" y="926">5</text>
<text x="655" y="926">10</text>
<text x="864.4" y="926">15</text>
<text x="1073.8" y="926">20</text>
<text x="1282.8" y="926">25</text>
</g><g class="t" text-anchor="end">
<text x="215" y="61.30">1550</text>
<text x="215" y="196.47">1500</text>
<text x="215" y="331.63">1450</text>
<text x="215" y="466.80">1400</text>
<text x="215" y="601.97">1350</text>
<text x="215" y="737.13">1300</text>
<text x="215" y="872.30">1250</text>
</g>
<text class="l" text-anchor="middle" x="759.5" y="1002.8">Frequency (Hz)</text>
<text class="l" text-anchor="middle" transform="translate(72.7 445) rotate(-90)">Group velocity (m/s)</text>
</svg></body></html>
